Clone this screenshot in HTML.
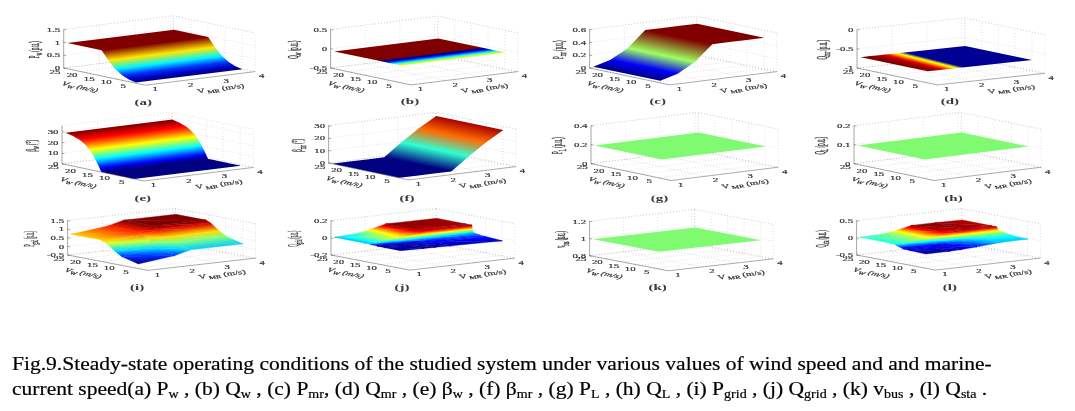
<!DOCTYPE html>
<html><head><meta charset="utf-8"><title>Fig.9</title>
<style>
html,body{margin:0;padding:0;background:#fff;}
body{width:1075px;height:411px;position:relative;overflow:hidden;font-family:"Liberation Serif",serif;}
.cap{position:absolute;left:12.4px;top:346px;width:1060px;font-size:19.2px;color:#000;white-space:nowrap;-webkit-text-stroke:0.2px #000;}
.cap div{position:absolute;left:0;height:24px;line-height:24px;transform-origin:0 0;transform:scaleX(1.1217);}
.cap .l1{top:6.1px;}
.cap .l2{top:30.8px;}
.cap sub{font-size:12.5px;vertical-align:baseline;position:relative;top:3px;}
</style></head><body>
<svg width="1075" height="320" viewBox="0 0 1075 320" font-family="Liberation Serif, serif" style="position:absolute;left:0;top:0;filter:blur(0.45px)">
<defs><linearGradient id="g1" gradientUnits="userSpaceOnUse" x1="67.38" y1="43.04" x2="73.26" y2="90.28"><stop offset="0.0000" stop-color="#800000"/><stop offset="0.2383" stop-color="#800000"/><stop offset="0.4697" stop-color="#ffe700"/><stop offset="0.6660" stop-color="#00f5ff"/><stop offset="0.8132" stop-color="#0033ff"/><stop offset="0.9213" stop-color="#0000bc"/><stop offset="1.0000" stop-color="#000080"/></linearGradient><linearGradient id="g2" gradientUnits="userSpaceOnUse" x1="334.21" y1="51.39" x2="336.96" y2="73.47"><stop offset="0.0000" stop-color="#800000"/><stop offset="0.6300" stop-color="#800000"/><stop offset="0.7000" stop-color="#000080"/><stop offset="0.7500" stop-color="#0000d1"/><stop offset="0.8000" stop-color="#0042ff"/><stop offset="0.8500" stop-color="#00bdff"/><stop offset="0.9000" stop-color="#38ffc7"/><stop offset="0.9500" stop-color="#9eff61"/><stop offset="1.0000" stop-color="#faff05"/></linearGradient><linearGradient id="g3" gradientUnits="userSpaceOnUse" x1="660.26" y1="80.78" x2="673.31" y2="18.64"><stop offset="0.0000" stop-color="#000080"/><stop offset="0.1647" stop-color="#0000fa"/><stop offset="0.4008" stop-color="#9eff61"/><stop offset="0.7320" stop-color="#800000"/><stop offset="0.8213" stop-color="#800000"/><stop offset="0.9107" stop-color="#800000"/><stop offset="1.0000" stop-color="#800000"/></linearGradient><linearGradient id="g4" gradientUnits="userSpaceOnUse" x1="927.66" y1="71.26" x2="936.54" y2="35.95"><stop offset="0.0000" stop-color="#800000"/><stop offset="0.0926" stop-color="#9e0000"/><stop offset="0.1543" stop-color="#e50000"/><stop offset="0.1955" stop-color="#ff4c00"/><stop offset="0.2263" stop-color="#ff9e00"/><stop offset="0.2572" stop-color="#ffe500"/><stop offset="0.2798" stop-color="#faff05"/><stop offset="0.3549" stop-color="#000094"/><stop offset="1.0000" stop-color="#000094"/></linearGradient><linearGradient id="g5" gradientUnits="userSpaceOnUse" x1="65.68" y1="132.78" x2="72.37" y2="186.60"><stop offset="0.0000" stop-color="#800000"/><stop offset="0.0089" stop-color="#860000"/><stop offset="0.0178" stop-color="#8c0000"/><stop offset="0.0267" stop-color="#930000"/><stop offset="0.0356" stop-color="#990000"/><stop offset="0.0445" stop-color="#a00000"/><stop offset="0.0534" stop-color="#a60000"/><stop offset="0.0623" stop-color="#ad0000"/><stop offset="0.0712" stop-color="#b30000"/><stop offset="0.0822" stop-color="#bd0000"/><stop offset="0.0932" stop-color="#c70000"/><stop offset="0.1043" stop-color="#d10000"/><stop offset="0.1153" stop-color="#dc0000"/><stop offset="0.1263" stop-color="#e60000"/><stop offset="0.1373" stop-color="#f00000"/><stop offset="0.1483" stop-color="#fa0000"/><stop offset="0.1593" stop-color="#ff0500"/><stop offset="0.1711" stop-color="#ff1100"/><stop offset="0.1862" stop-color="#ff2200"/><stop offset="0.2012" stop-color="#ff3300"/><stop offset="0.2162" stop-color="#ff4400"/><stop offset="0.2312" stop-color="#ff5500"/><stop offset="0.2463" stop-color="#ff6700"/><stop offset="0.2623" stop-color="#ff7a00"/><stop offset="0.2826" stop-color="#ff9400"/><stop offset="0.3029" stop-color="#ffae00"/><stop offset="0.3231" stop-color="#ffc900"/><stop offset="0.3434" stop-color="#ffe300"/><stop offset="0.3637" stop-color="#fffd00"/><stop offset="0.3883" stop-color="#dfff20"/><stop offset="0.4158" stop-color="#b7ff48"/><stop offset="0.4434" stop-color="#90ff6f"/><stop offset="0.4709" stop-color="#69ff96"/><stop offset="0.5030" stop-color="#3affc5"/><stop offset="0.5350" stop-color="#0bfff4"/><stop offset="0.5671" stop-color="#00dbff"/><stop offset="0.5991" stop-color="#00acff"/><stop offset="0.6316" stop-color="#007cff"/><stop offset="0.6647" stop-color="#004bff"/><stop offset="0.6978" stop-color="#001bff"/><stop offset="0.7360" stop-color="#0000e0"/><stop offset="0.7755" stop-color="#0000a4"/><stop offset="0.8013" stop-color="#000080"/><stop offset="0.8065" stop-color="#000080"/><stop offset="0.8118" stop-color="#000080"/><stop offset="0.8170" stop-color="#000080"/><stop offset="0.8222" stop-color="#000080"/><stop offset="0.8274" stop-color="#000080"/><stop offset="0.8327" stop-color="#000080"/><stop offset="0.8379" stop-color="#000080"/><stop offset="0.8431" stop-color="#000080"/><stop offset="0.8484" stop-color="#000080"/><stop offset="0.8536" stop-color="#000080"/><stop offset="0.8588" stop-color="#000080"/><stop offset="0.8641" stop-color="#000080"/><stop offset="0.8693" stop-color="#000080"/><stop offset="0.8745" stop-color="#000080"/><stop offset="0.8797" stop-color="#000080"/><stop offset="0.8850" stop-color="#000080"/><stop offset="0.8902" stop-color="#000080"/><stop offset="0.8954" stop-color="#000080"/><stop offset="0.9007" stop-color="#000080"/><stop offset="0.9059" stop-color="#000080"/><stop offset="0.9111" stop-color="#000080"/><stop offset="0.9163" stop-color="#000080"/><stop offset="0.9216" stop-color="#000080"/><stop offset="0.9268" stop-color="#000080"/><stop offset="0.9320" stop-color="#000080"/><stop offset="0.9373" stop-color="#000080"/><stop offset="0.9425" stop-color="#000080"/><stop offset="0.9477" stop-color="#000080"/><stop offset="0.9529" stop-color="#000080"/><stop offset="0.9582" stop-color="#000080"/><stop offset="0.9634" stop-color="#000080"/><stop offset="0.9686" stop-color="#000080"/><stop offset="0.9739" stop-color="#000080"/><stop offset="0.9791" stop-color="#000080"/><stop offset="0.9843" stop-color="#000080"/><stop offset="0.9895" stop-color="#000080"/><stop offset="0.9948" stop-color="#000080"/><stop offset="1.0000" stop-color="#000080"/></linearGradient><linearGradient id="g6" gradientUnits="userSpaceOnUse" x1="399.26" y1="177.84" x2="413.28" y2="111.11"><stop offset="0.0000" stop-color="#000080"/><stop offset="0.0832" stop-color="#000080"/><stop offset="0.1664" stop-color="#000080"/><stop offset="0.2495" stop-color="#000080"/><stop offset="0.5170" stop-color="#2effd1"/><stop offset="0.7701" stop-color="#ff6b00"/><stop offset="1.0000" stop-color="#a80000"/></linearGradient><linearGradient id="g7" gradientUnits="userSpaceOnUse" x1="107.83" y1="225.99" x2="109.46" y2="217.53"><stop offset="0.0000" stop-color="#ff2300"/><stop offset="1.0000" stop-color="#800000"/></linearGradient><linearGradient id="g8" gradientUnits="userSpaceOnUse" x1="107.83" y1="225.99" x2="109.46" y2="217.53"><stop offset="0.0000" stop-color="#ff2300"/><stop offset="1.0000" stop-color="#800000"/></linearGradient><linearGradient id="g9" gradientUnits="userSpaceOnUse" x1="71.22" y1="234.30" x2="74.06" y2="219.49"><stop offset="0.0000" stop-color="#ffcd00"/><stop offset="1.0000" stop-color="#ff2300"/></linearGradient><linearGradient id="g10" gradientUnits="userSpaceOnUse" x1="71.22" y1="234.30" x2="74.06" y2="219.49"><stop offset="0.0000" stop-color="#ffcd00"/><stop offset="1.0000" stop-color="#ff2300"/></linearGradient><linearGradient id="g11" gradientUnits="userSpaceOnUse" x1="211.05" y1="223.27" x2="210.62" y2="219.54"><stop offset="0.0000" stop-color="#dc0000"/><stop offset="1.0000" stop-color="#800000"/></linearGradient><linearGradient id="g12" gradientUnits="userSpaceOnUse" x1="211.05" y1="223.27" x2="210.62" y2="219.54"><stop offset="0.0000" stop-color="#dc0000"/><stop offset="1.0000" stop-color="#800000"/></linearGradient><linearGradient id="g13" gradientUnits="userSpaceOnUse" x1="138.02" y1="231.79" x2="138.00" y2="226.09"><stop offset="0.0000" stop-color="#ff2300"/><stop offset="0.4348" stop-color="#dc0000"/><stop offset="1.0000" stop-color="#800000"/></linearGradient><linearGradient id="g14" gradientUnits="userSpaceOnUse" x1="143.05" y1="234.99" x2="143.03" y2="229.30"><stop offset="0.0000" stop-color="#ff7f00"/><stop offset="0.5652" stop-color="#ff2300"/><stop offset="1.0000" stop-color="#dc0000"/></linearGradient><linearGradient id="g15" gradientUnits="userSpaceOnUse" x1="101.40" y1="240.10" x2="101.07" y2="233.72"><stop offset="0.0000" stop-color="#ffcd00"/><stop offset="0.4583" stop-color="#ff7f00"/><stop offset="1.0000" stop-color="#ff2300"/></linearGradient><linearGradient id="g16" gradientUnits="userSpaceOnUse" x1="106.43" y1="243.31" x2="106.10" y2="236.93"><stop offset="0.0000" stop-color="#d5ff2a"/><stop offset="0.5417" stop-color="#ffcd00"/><stop offset="1.0000" stop-color="#ff7f00"/></linearGradient><linearGradient id="g17" gradientUnits="userSpaceOnUse" x1="219.43" y1="231.07" x2="218.44" y2="222.42"><stop offset="0.0000" stop-color="#ffdc00"/><stop offset="1.0000" stop-color="#dc0000"/></linearGradient><linearGradient id="g18" gradientUnits="userSpaceOnUse" x1="219.43" y1="231.07" x2="218.44" y2="222.42"><stop offset="0.0000" stop-color="#ffdc00"/><stop offset="1.0000" stop-color="#dc0000"/></linearGradient><linearGradient id="g19" gradientUnits="userSpaceOnUse" x1="167.13" y1="237.05" x2="166.83" y2="228.95"><stop offset="0.0000" stop-color="#ffdc00"/><stop offset="0.3611" stop-color="#ff7f00"/><stop offset="1.0000" stop-color="#dc0000"/></linearGradient><linearGradient id="g20" gradientUnits="userSpaceOnUse" x1="151.43" y1="242.80" x2="151.14" y2="234.70"><stop offset="0.0000" stop-color="#80ff7f"/><stop offset="0.6389" stop-color="#ffdc00"/><stop offset="1.0000" stop-color="#ff7f00"/></linearGradient><linearGradient id="g21" gradientUnits="userSpaceOnUse" x1="151.43" y1="242.80" x2="150.82" y2="234.42"><stop offset="0.0000" stop-color="#80ff7f"/><stop offset="0.3333" stop-color="#d5ff2a"/><stop offset="1.0000" stop-color="#ff7f00"/></linearGradient><linearGradient id="g22" gradientUnits="userSpaceOnUse" x1="114.82" y1="251.11" x2="114.20" y2="242.74"><stop offset="0.0000" stop-color="#00d5ff"/><stop offset="0.6667" stop-color="#80ff7f"/><stop offset="1.0000" stop-color="#d5ff2a"/></linearGradient><linearGradient id="g23" gradientUnits="userSpaceOnUse" x1="226.14" y1="236.32" x2="225.46" y2="230.38"><stop offset="0.0000" stop-color="#80ff7f"/><stop offset="1.0000" stop-color="#ffdc00"/></linearGradient><linearGradient id="g24" gradientUnits="userSpaceOnUse" x1="226.14" y1="236.32" x2="225.46" y2="230.38"><stop offset="0.0000" stop-color="#80ff7f"/><stop offset="1.0000" stop-color="#ffdc00"/></linearGradient><linearGradient id="g25" gradientUnits="userSpaceOnUse" x1="151.43" y1="242.80" x2="151.31" y2="237.41"><stop offset="0.0000" stop-color="#80ff7f"/><stop offset="1.0000" stop-color="#ffdc00"/></linearGradient><linearGradient id="g26" gradientUnits="userSpaceOnUse" x1="158.14" y1="248.05" x2="158.02" y2="242.65"><stop offset="0.0000" stop-color="#00dcff"/><stop offset="1.0000" stop-color="#80ff7f"/></linearGradient><linearGradient id="g27" gradientUnits="userSpaceOnUse" x1="114.82" y1="251.11" x2="114.44" y2="245.21"><stop offset="0.0000" stop-color="#00d5ff"/><stop offset="0.0417" stop-color="#00dcff"/><stop offset="1.0000" stop-color="#80ff7f"/></linearGradient><linearGradient id="g28" gradientUnits="userSpaceOnUse" x1="121.53" y1="256.36" x2="121.14" y2="250.45"><stop offset="0.0000" stop-color="#0032ff"/><stop offset="0.9583" stop-color="#00d5ff"/><stop offset="1.0000" stop-color="#00dcff"/></linearGradient><linearGradient id="g29" gradientUnits="userSpaceOnUse" x1="242.91" y1="243.84" x2="241.85" y2="234.52"><stop offset="0.0000" stop-color="#00cdff"/><stop offset="1.0000" stop-color="#80ff7f"/></linearGradient><linearGradient id="g30" gradientUnits="userSpaceOnUse" x1="242.91" y1="243.84" x2="241.85" y2="234.52"><stop offset="0.0000" stop-color="#00cdff"/><stop offset="1.0000" stop-color="#80ff7f"/></linearGradient><linearGradient id="g31" gradientUnits="userSpaceOnUse" x1="190.60" y1="249.82" x2="190.86" y2="242.94"><stop offset="0.0000" stop-color="#00cdff"/><stop offset="0.0800" stop-color="#00dcff"/><stop offset="1.0000" stop-color="#80ff7f"/></linearGradient><linearGradient id="g32" gradientUnits="userSpaceOnUse" x1="174.91" y1="255.57" x2="175.17" y2="248.69"><stop offset="0.0000" stop-color="#002bff"/><stop offset="0.9200" stop-color="#00cdff"/><stop offset="1.0000" stop-color="#00dcff"/></linearGradient><linearGradient id="g33" gradientUnits="userSpaceOnUse" x1="174.91" y1="255.57" x2="174.75" y2="247.70"><stop offset="0.0000" stop-color="#002bff"/><stop offset="0.0400" stop-color="#0032ff"/><stop offset="1.0000" stop-color="#00dcff"/></linearGradient><linearGradient id="g34" gradientUnits="userSpaceOnUse" x1="138.30" y1="263.88" x2="138.14" y2="256.02"><stop offset="0.0000" stop-color="#000080"/><stop offset="0.9600" stop-color="#002bff"/><stop offset="1.0000" stop-color="#0032ff"/></linearGradient><linearGradient id="g35" gradientUnits="userSpaceOnUse" x1="436.61" y1="218.30" x2="433.75" y2="233.14"><stop offset="0.0000" stop-color="#9f0000"/><stop offset="1.0000" stop-color="#870000"/></linearGradient><linearGradient id="g36" gradientUnits="userSpaceOnUse" x1="415.18" y1="230.09" x2="414.83" y2="222.55"><stop offset="0.0000" stop-color="#b70000"/><stop offset="1.0000" stop-color="#870000"/></linearGradient><linearGradient id="g37" gradientUnits="userSpaceOnUse" x1="370.27" y1="229.41" x2="371.63" y2="221.48"><stop offset="0.0000" stop-color="#ffe400"/><stop offset="0.6562" stop-color="#ff0000"/><stop offset="1.0000" stop-color="#870000"/></linearGradient><linearGradient id="g38" gradientUnits="userSpaceOnUse" x1="370.27" y1="229.41" x2="372.06" y2="220.94"><stop offset="0.0000" stop-color="#ffe400"/><stop offset="0.7599" stop-color="#ff0000"/><stop offset="1.0000" stop-color="#b70000"/></linearGradient><linearGradient id="g39" gradientUnits="userSpaceOnUse" x1="358.36" y1="233.18" x2="359.81" y2="226.31"><stop offset="0.0000" stop-color="#3cffc3"/><stop offset="0.7695" stop-color="#ffff00"/><stop offset="1.0000" stop-color="#ffc500"/></linearGradient><linearGradient id="g40" gradientUnits="userSpaceOnUse" x1="358.36" y1="233.18" x2="366.57" y2="217.42"><stop offset="0.0000" stop-color="#3cffc3"/><stop offset="0.7695" stop-color="#ffff00"/><stop offset="1.0000" stop-color="#ffc500"/></linearGradient><linearGradient id="g41" gradientUnits="userSpaceOnUse" x1="334.55" y1="237.28" x2="382.96" y2="221.73"><stop offset="0.0000" stop-color="#00bdff"/><stop offset="0.2463" stop-color="#00ffff"/><stop offset="1.0000" stop-color="#cbff34"/></linearGradient><linearGradient id="g42" gradientUnits="userSpaceOnUse" x1="364.15" y1="242.99" x2="365.92" y2="233.29"><stop offset="0.0000" stop-color="#00b5ff"/><stop offset="0.2679" stop-color="#00ffff"/><stop offset="1.0000" stop-color="#cbff34"/></linearGradient><linearGradient id="g43" gradientUnits="userSpaceOnUse" x1="415.18" y1="230.09" x2="418.13" y2="214.75"><stop offset="0.0000" stop-color="#b70000"/><stop offset="1.0000" stop-color="#9f0000"/></linearGradient><linearGradient id="g44" gradientUnits="userSpaceOnUse" x1="420.77" y1="232.37" x2="420.51" y2="229.09"><stop offset="0.0000" stop-color="#ff2700"/><stop offset="0.2868" stop-color="#ff0000"/><stop offset="1.0000" stop-color="#9f0000"/></linearGradient><linearGradient id="g45" gradientUnits="userSpaceOnUse" x1="399.87" y1="234.76" x2="400.02" y2="229.63"><stop offset="0.0000" stop-color="#ffc500"/><stop offset="0.7316" stop-color="#ff0000"/><stop offset="1.0000" stop-color="#b70000"/></linearGradient><linearGradient id="g46" gradientUnits="userSpaceOnUse" x1="399.87" y1="234.76" x2="401.06" y2="228.58"><stop offset="0.0000" stop-color="#ffc500"/><stop offset="1.0000" stop-color="#ff2700"/></linearGradient><linearGradient id="g47" gradientUnits="userSpaceOnUse" x1="387.96" y1="237.32" x2="388.86" y2="232.64"><stop offset="0.0000" stop-color="#cbff34"/><stop offset="0.4732" stop-color="#ffff00"/><stop offset="1.0000" stop-color="#ffc500"/></linearGradient><linearGradient id="g48" gradientUnits="userSpaceOnUse" x1="387.96" y1="237.32" x2="390.45" y2="230.42"><stop offset="0.0000" stop-color="#cbff34"/><stop offset="0.4732" stop-color="#ffff00"/><stop offset="1.0000" stop-color="#ffc500"/></linearGradient><linearGradient id="g49" gradientUnits="userSpaceOnUse" x1="364.15" y1="242.99" x2="367.70" y2="230.73"><stop offset="0.0000" stop-color="#00b5ff"/><stop offset="0.2534" stop-color="#00ffff"/><stop offset="1.0000" stop-color="#daff25"/></linearGradient><linearGradient id="g50" gradientUnits="userSpaceOnUse" x1="369.74" y1="244.08" x2="371.14" y2="234.84"><stop offset="0.0000" stop-color="#00adff"/><stop offset="0.2730" stop-color="#00ffff"/><stop offset="1.0000" stop-color="#daff25"/></linearGradient><linearGradient id="g51" gradientUnits="userSpaceOnUse" x1="473.11" y1="232.29" x2="472.29" y2="225.02"><stop offset="0.0000" stop-color="#00dcff"/><stop offset="0.0540" stop-color="#00ffff"/><stop offset="0.4522" stop-color="#ffff00"/><stop offset="0.8503" stop-color="#ff0000"/><stop offset="1.0000" stop-color="#9f0000"/></linearGradient><linearGradient id="g52" gradientUnits="userSpaceOnUse" x1="422.08" y1="238.29" x2="421.40" y2="232.29"><stop offset="0.0000" stop-color="#00cdff"/><stop offset="0.0966" stop-color="#00ffff"/><stop offset="0.5852" stop-color="#ffff00"/><stop offset="1.0000" stop-color="#ff2700"/></linearGradient><linearGradient id="g53" gradientUnits="userSpaceOnUse" x1="422.08" y1="238.29" x2="421.44" y2="232.29"><stop offset="0.0000" stop-color="#00cdff"/><stop offset="0.0966" stop-color="#00ffff"/><stop offset="0.5852" stop-color="#ffff00"/><stop offset="1.0000" stop-color="#ff2700"/></linearGradient><linearGradient id="g54" gradientUnits="userSpaceOnUse" x1="422.08" y1="238.29" x2="421.58" y2="233.97"><stop offset="0.0000" stop-color="#00cdff"/><stop offset="0.1386" stop-color="#00ffff"/><stop offset="0.8397" stop-color="#ffff00"/><stop offset="1.0000" stop-color="#ffc500"/></linearGradient><linearGradient id="g55" gradientUnits="userSpaceOnUse" x1="406.77" y1="239.87" x2="406.34" y2="235.74"><stop offset="0.0000" stop-color="#00dcff"/><stop offset="0.0994" stop-color="#00ffff"/><stop offset="0.8324" stop-color="#ffff00"/><stop offset="1.0000" stop-color="#ffc500"/></linearGradient><linearGradient id="g56" gradientUnits="userSpaceOnUse" x1="394.87" y1="241.64" x2="394.51" y2="238.13"><stop offset="0.0000" stop-color="#00adff"/><stop offset="0.2730" stop-color="#00ffff"/><stop offset="1.0000" stop-color="#daff25"/></linearGradient><linearGradient id="g57" gradientUnits="userSpaceOnUse" x1="369.74" y1="244.08" x2="369.40" y2="240.58"><stop offset="0.0000" stop-color="#00adff"/><stop offset="0.2730" stop-color="#00ffff"/><stop offset="1.0000" stop-color="#daff25"/></linearGradient><linearGradient id="g58" gradientUnits="userSpaceOnUse" x1="371.05" y1="244.56" x2="371.00" y2="243.96"><stop offset="0.0000" stop-color="#004eff"/><stop offset="1.0000" stop-color="#00adff"/></linearGradient><linearGradient id="g59" gradientUnits="userSpaceOnUse" x1="479.36" y1="234.88" x2="479.00" y2="231.64"><stop offset="0.0000" stop-color="#004eff"/><stop offset="1.0000" stop-color="#00dcff"/></linearGradient><linearGradient id="g60" gradientUnits="userSpaceOnUse" x1="428.33" y1="240.70" x2="428.05" y2="237.73"><stop offset="0.0000" stop-color="#000fff"/><stop offset="1.0000" stop-color="#00cdff"/></linearGradient><linearGradient id="g61" gradientUnits="userSpaceOnUse" x1="428.33" y1="240.70" x2="427.93" y2="237.33"><stop offset="0.0000" stop-color="#000fff"/><stop offset="1.0000" stop-color="#00dcff"/></linearGradient><linearGradient id="g62" gradientUnits="userSpaceOnUse" x1="413.02" y1="242.65" x2="412.80" y2="239.46"><stop offset="0.0000" stop-color="#0000bf"/><stop offset="0.2257" stop-color="#0000ff"/><stop offset="1.0000" stop-color="#00dcff"/></linearGradient><linearGradient id="g63" gradientUnits="userSpaceOnUse" x1="413.02" y1="242.65" x2="412.68" y2="239.28"><stop offset="0.0000" stop-color="#0000bf"/><stop offset="0.2257" stop-color="#0000ff"/><stop offset="1.0000" stop-color="#00dcff"/></linearGradient><linearGradient id="g64" gradientUnits="userSpaceOnUse" x1="401.12" y1="243.83" x2="400.86" y2="241.09"><stop offset="0.0000" stop-color="#0000b7"/><stop offset="0.2944" stop-color="#0000ff"/><stop offset="1.0000" stop-color="#00adff"/></linearGradient><linearGradient id="g65" gradientUnits="userSpaceOnUse" x1="401.12" y1="243.83" x2="400.91" y2="241.16"><stop offset="0.0000" stop-color="#0000b7"/><stop offset="0.2944" stop-color="#0000ff"/><stop offset="1.0000" stop-color="#00adff"/></linearGradient><linearGradient id="g66" gradientUnits="userSpaceOnUse" x1="377.30" y1="246.14" x2="377.11" y2="244.00"><stop offset="0.0000" stop-color="#0000af"/><stop offset="0.5063" stop-color="#0000ff"/><stop offset="1.0000" stop-color="#004eff"/></linearGradient><linearGradient id="g67" gradientUnits="userSpaceOnUse" x1="428.33" y1="240.70" x2="428.17" y2="237.91"><stop offset="0.0000" stop-color="#000fff"/><stop offset="1.0000" stop-color="#004eff"/></linearGradient><linearGradient id="g68" gradientUnits="userSpaceOnUse" x1="434.91" y1="242.16" x2="434.76" y2="239.47"><stop offset="0.0000" stop-color="#0000ed"/><stop offset="0.3750" stop-color="#0000ff"/><stop offset="1.0000" stop-color="#001fff"/></linearGradient><linearGradient id="g69" gradientUnits="userSpaceOnUse" x1="413.02" y1="242.65" x2="413.16" y2="239.95"><stop offset="0.0000" stop-color="#0000bf"/><stop offset="0.8125" stop-color="#0000ff"/><stop offset="1.0000" stop-color="#000fff"/></linearGradient><linearGradient id="g70" gradientUnits="userSpaceOnUse" x1="419.60" y1="243.96" x2="419.98" y2="240.53"><stop offset="0.0000" stop-color="#0000b5"/><stop offset="1.0000" stop-color="#0000ed"/></linearGradient><linearGradient id="g71" gradientUnits="userSpaceOnUse" x1="419.60" y1="243.96" x2="419.60" y2="242.61"><stop offset="0.0000" stop-color="#0000b5"/><stop offset="1.0000" stop-color="#0000bf"/></linearGradient><linearGradient id="g72" gradientUnits="userSpaceOnUse" x1="407.70" y1="245.14" x2="407.69" y2="243.80"><stop offset="0.0000" stop-color="#0000ad"/><stop offset="1.0000" stop-color="#0000b7"/></linearGradient><linearGradient id="g73" gradientUnits="userSpaceOnUse" x1="407.70" y1="245.14" x2="407.63" y2="243.56"><stop offset="0.0000" stop-color="#0000ad"/><stop offset="1.0000" stop-color="#0000b7"/></linearGradient><linearGradient id="g74" gradientUnits="userSpaceOnUse" x1="383.88" y1="247.44" x2="383.82" y2="245.88"><stop offset="0.0000" stop-color="#0000a3"/><stop offset="1.0000" stop-color="#0000af"/></linearGradient><linearGradient id="g75" gradientUnits="userSpaceOnUse" x1="502.39" y1="240.81" x2="502.05" y2="235.58"><stop offset="0.0000" stop-color="#0000af"/><stop offset="0.7232" stop-color="#0000ff"/><stop offset="1.0000" stop-color="#001fff"/></linearGradient><linearGradient id="g76" gradientUnits="userSpaceOnUse" x1="451.36" y1="245.78" x2="450.98" y2="240.91"><stop offset="0.0000" stop-color="#00009f"/><stop offset="1.0000" stop-color="#0000ed"/></linearGradient><linearGradient id="g77" gradientUnits="userSpaceOnUse" x1="451.36" y1="245.78" x2="451.45" y2="242.64"><stop offset="0.0000" stop-color="#00009f"/><stop offset="1.0000" stop-color="#0000ed"/></linearGradient><linearGradient id="g78" gradientUnits="userSpaceOnUse" x1="451.36" y1="245.78" x2="450.90" y2="241.00"><stop offset="0.0000" stop-color="#00009f"/><stop offset="1.0000" stop-color="#0000b5"/></linearGradient><linearGradient id="g79" gradientUnits="userSpaceOnUse" x1="436.05" y1="247.23" x2="436.05" y2="243.95"><stop offset="0.0000" stop-color="#00009f"/><stop offset="1.0000" stop-color="#0000b5"/></linearGradient><linearGradient id="g80" gradientUnits="userSpaceOnUse" x1="424.14" y1="248.39" x2="424.14" y2="245.14"><stop offset="0.0000" stop-color="#000097"/><stop offset="1.0000" stop-color="#0000ad"/></linearGradient><linearGradient id="g81" gradientUnits="userSpaceOnUse" x1="424.14" y1="248.39" x2="424.05" y2="244.73"><stop offset="0.0000" stop-color="#000097"/><stop offset="1.0000" stop-color="#0000ad"/></linearGradient><linearGradient id="g82" gradientUnits="userSpaceOnUse" x1="400.33" y1="250.67" x2="400.28" y2="247.22"><stop offset="0.0000" stop-color="#000087"/><stop offset="1.0000" stop-color="#0000a3"/></linearGradient><linearGradient id="g83" gradientUnits="userSpaceOnUse" x1="991.81" y1="225.77" x2="985.94" y2="241.59"><stop offset="0.0000" stop-color="#bf0000"/><stop offset="1.0000" stop-color="#900000"/></linearGradient><linearGradient id="g84" gradientUnits="userSpaceOnUse" x1="991.81" y1="225.77" x2="985.94" y2="241.59"><stop offset="0.0000" stop-color="#bf0000"/><stop offset="1.0000" stop-color="#900000"/></linearGradient><linearGradient id="g85" gradientUnits="userSpaceOnUse" x1="964.59" y1="228.53" x2="948.42" y2="202.35"><stop offset="0.0000" stop-color="#9e0000"/><stop offset="1.0000" stop-color="#8a0000"/></linearGradient><linearGradient id="g86" gradientUnits="userSpaceOnUse" x1="940.78" y1="231.98" x2="940.98" y2="226.44"><stop offset="0.0000" stop-color="#e40000"/><stop offset="1.0000" stop-color="#8a0000"/></linearGradient><linearGradient id="g87" gradientUnits="userSpaceOnUse" x1="895.87" y1="230.79" x2="897.07" y2="223.14"><stop offset="0.0000" stop-color="#fff000"/><stop offset="0.6717" stop-color="#ff0000"/><stop offset="1.0000" stop-color="#8a0000"/></linearGradient><linearGradient id="g88" gradientUnits="userSpaceOnUse" x1="925.47" y1="236.58" x2="926.81" y2="229.37"><stop offset="0.0000" stop-color="#fffa00"/><stop offset="0.9021" stop-color="#ff0000"/><stop offset="1.0000" stop-color="#e40000"/></linearGradient><linearGradient id="g89" gradientUnits="userSpaceOnUse" x1="883.96" y1="233.83" x2="884.90" y2="228.76"><stop offset="0.0000" stop-color="#6aff95"/><stop offset="0.9107" stop-color="#ffff00"/><stop offset="1.0000" stop-color="#fff000"/></linearGradient><linearGradient id="g90" gradientUnits="userSpaceOnUse" x1="883.96" y1="233.83" x2="885.46" y2="227.35"><stop offset="0.0000" stop-color="#6aff95"/><stop offset="0.9701" stop-color="#ffff00"/><stop offset="1.0000" stop-color="#fffa00"/></linearGradient><linearGradient id="g91" gradientUnits="userSpaceOnUse" x1="860.15" y1="237.28" x2="866.33" y2="221.11"><stop offset="0.0000" stop-color="#24ffdb"/><stop offset="1.0000" stop-color="#8bff74"/></linearGradient><linearGradient id="g92" gradientUnits="userSpaceOnUse" x1="889.75" y1="243.14" x2="890.98" y2="235.53"><stop offset="0.0000" stop-color="#13ffec"/><stop offset="1.0000" stop-color="#8bff74"/></linearGradient><linearGradient id="g93" gradientUnits="userSpaceOnUse" x1="996.74" y1="226.92" x2="995.27" y2="220.96"><stop offset="0.0000" stop-color="#d30000"/><stop offset="1.0000" stop-color="#9e0000"/></linearGradient><linearGradient id="g94" gradientUnits="userSpaceOnUse" x1="996.74" y1="226.92" x2="995.27" y2="220.96"><stop offset="0.0000" stop-color="#d30000"/><stop offset="1.0000" stop-color="#9e0000"/></linearGradient><linearGradient id="g95" gradientUnits="userSpaceOnUse" x1="940.78" y1="231.98" x2="940.83" y2="228.19"><stop offset="0.0000" stop-color="#e40000"/><stop offset="1.0000" stop-color="#9e0000"/></linearGradient><linearGradient id="g96" gradientUnits="userSpaceOnUse" x1="945.71" y1="234.13" x2="945.56" y2="230.75"><stop offset="0.0000" stop-color="#ff5a00"/><stop offset="0.5375" stop-color="#ff0000"/><stop offset="1.0000" stop-color="#b20000"/></linearGradient><linearGradient id="g97" gradientUnits="userSpaceOnUse" x1="925.47" y1="236.58" x2="925.56" y2="231.70"><stop offset="0.0000" stop-color="#fffa00"/><stop offset="0.9021" stop-color="#ff0000"/><stop offset="1.0000" stop-color="#e40000"/></linearGradient><linearGradient id="g98" gradientUnits="userSpaceOnUse" x1="930.40" y1="237.60" x2="931.31" y2="231.85"><stop offset="0.0000" stop-color="#fdff02"/><stop offset="0.0125" stop-color="#ffff00"/><stop offset="1.0000" stop-color="#ff5a00"/></linearGradient><linearGradient id="g99" gradientUnits="userSpaceOnUse" x1="913.56" y1="239.18" x2="914.24" y2="234.83"><stop offset="0.0000" stop-color="#8bff74"/><stop offset="0.9618" stop-color="#ffff00"/><stop offset="1.0000" stop-color="#fffa00"/></linearGradient><linearGradient id="g100" gradientUnits="userSpaceOnUse" x1="913.56" y1="239.18" x2="928.16" y2="232.62"><stop offset="0.0000" stop-color="#8bff74"/><stop offset="1.0000" stop-color="#fdff02"/></linearGradient><linearGradient id="g101" gradientUnits="userSpaceOnUse" x1="889.75" y1="243.14" x2="908.91" y2="255.14"><stop offset="0.0000" stop-color="#13ffec"/><stop offset="1.0000" stop-color="#a9ff56"/></linearGradient><linearGradient id="g102" gradientUnits="userSpaceOnUse" x1="894.68" y1="244.33" x2="895.12" y2="238.15"><stop offset="0.0000" stop-color="#00faff"/><stop offset="0.0264" stop-color="#00ffff"/><stop offset="1.0000" stop-color="#a9ff56"/></linearGradient><linearGradient id="g103" gradientUnits="userSpaceOnUse" x1="998.38" y1="229.99" x2="997.96" y2="226.37"><stop offset="0.0000" stop-color="#ffe000"/><stop offset="0.7431" stop-color="#ff0000"/><stop offset="1.0000" stop-color="#b20000"/></linearGradient><linearGradient id="g104" gradientUnits="userSpaceOnUse" x1="998.38" y1="229.99" x2="997.98" y2="226.44"><stop offset="0.0000" stop-color="#ffe000"/><stop offset="0.7431" stop-color="#ff0000"/><stop offset="1.0000" stop-color="#b20000"/></linearGradient><linearGradient id="g105" gradientUnits="userSpaceOnUse" x1="971.17" y1="233.10" x2="970.80" y2="229.56"><stop offset="0.0000" stop-color="#ffe000"/><stop offset="0.7431" stop-color="#ff0000"/><stop offset="1.0000" stop-color="#b20000"/></linearGradient><linearGradient id="g106" gradientUnits="userSpaceOnUse" x1="947.35" y1="236.51" x2="947.08" y2="233.98"><stop offset="0.0000" stop-color="#dbff24"/><stop offset="0.1771" stop-color="#ffff00"/><stop offset="1.0000" stop-color="#ff5a00"/></linearGradient><linearGradient id="g107" gradientUnits="userSpaceOnUse" x1="947.35" y1="236.51" x2="947.13" y2="234.00"><stop offset="0.0000" stop-color="#dbff24"/><stop offset="0.1771" stop-color="#ffff00"/><stop offset="1.0000" stop-color="#ff5a00"/></linearGradient><linearGradient id="g108" gradientUnits="userSpaceOnUse" x1="932.05" y1="239.64" x2="931.85" y2="237.47"><stop offset="0.0000" stop-color="#56ffa9"/><stop offset="1.0000" stop-color="#fdff02"/></linearGradient><linearGradient id="g109" gradientUnits="userSpaceOnUse" x1="932.05" y1="239.64" x2="931.84" y2="237.46"><stop offset="0.0000" stop-color="#56ffa9"/><stop offset="1.0000" stop-color="#fdff02"/></linearGradient><linearGradient id="g110" gradientUnits="userSpaceOnUse" x1="920.14" y1="241.69" x2="919.95" y2="239.68"><stop offset="0.0000" stop-color="#13ffec"/><stop offset="1.0000" stop-color="#a9ff56"/></linearGradient><linearGradient id="g111" gradientUnits="userSpaceOnUse" x1="894.68" y1="244.33" x2="894.47" y2="242.02"><stop offset="0.0000" stop-color="#00faff"/><stop offset="0.0264" stop-color="#00ffff"/><stop offset="1.0000" stop-color="#a9ff56"/></linearGradient><linearGradient id="g112" gradientUnits="userSpaceOnUse" x1="896.32" y1="245.44" x2="896.18" y2="243.82"><stop offset="0.0000" stop-color="#00adff"/><stop offset="0.8125" stop-color="#00ffff"/><stop offset="1.0000" stop-color="#13ffec"/></linearGradient><linearGradient id="g113" gradientUnits="userSpaceOnUse" x1="1004.96" y1="232.98" x2="1004.54" y2="229.29"><stop offset="0.0000" stop-color="#77ff88"/><stop offset="0.8125" stop-color="#ffff00"/><stop offset="1.0000" stop-color="#ffe000"/></linearGradient><linearGradient id="g114" gradientUnits="userSpaceOnUse" x1="977.75" y1="236.60" x2="977.34" y2="232.50"><stop offset="0.0000" stop-color="#45ffba"/><stop offset="0.8558" stop-color="#ffff00"/><stop offset="1.0000" stop-color="#ffe000"/></linearGradient><linearGradient id="g115" gradientUnits="userSpaceOnUse" x1="977.75" y1="236.60" x2="977.38" y2="232.54"><stop offset="0.0000" stop-color="#45ffba"/><stop offset="0.8558" stop-color="#ffff00"/><stop offset="1.0000" stop-color="#ffe000"/></linearGradient><linearGradient id="g116" gradientUnits="userSpaceOnUse" x1="953.93" y1="241.22" x2="953.55" y2="236.05"><stop offset="0.0000" stop-color="#008cff"/><stop offset="0.3438" stop-color="#00ffff"/><stop offset="1.0000" stop-color="#dbff24"/></linearGradient><linearGradient id="g117" gradientUnits="userSpaceOnUse" x1="953.93" y1="241.22" x2="953.58" y2="236.08"><stop offset="0.0000" stop-color="#008cff"/><stop offset="0.3438" stop-color="#00ffff"/><stop offset="1.0000" stop-color="#dbff24"/></linearGradient><linearGradient id="g118" gradientUnits="userSpaceOnUse" x1="938.62" y1="244.34" x2="938.27" y2="239.21"><stop offset="0.0000" stop-color="#0006ff"/><stop offset="0.7437" stop-color="#00ffff"/><stop offset="1.0000" stop-color="#56ffa9"/></linearGradient><linearGradient id="g119" gradientUnits="userSpaceOnUse" x1="938.62" y1="244.34" x2="938.19" y2="239.12"><stop offset="0.0000" stop-color="#0006ff"/><stop offset="0.7437" stop-color="#00ffff"/><stop offset="1.0000" stop-color="#56ffa9"/></linearGradient><linearGradient id="g120" gradientUnits="userSpaceOnUse" x1="926.72" y1="245.87" x2="926.21" y2="241.05"><stop offset="0.0000" stop-color="#0000f5"/><stop offset="0.0368" stop-color="#0000ff"/><stop offset="0.9338" stop-color="#00ffff"/><stop offset="1.0000" stop-color="#13ffec"/></linearGradient><linearGradient id="g121" gradientUnits="userSpaceOnUse" x1="926.72" y1="245.87" x2="926.31" y2="241.15"><stop offset="0.0000" stop-color="#0000f5"/><stop offset="0.0368" stop-color="#0000ff"/><stop offset="0.9338" stop-color="#00ffff"/><stop offset="1.0000" stop-color="#13ffec"/></linearGradient><linearGradient id="g122" gradientUnits="userSpaceOnUse" x1="902.90" y1="248.77" x2="902.47" y2="244.78"><stop offset="0.0000" stop-color="#0000e4"/><stop offset="0.1354" stop-color="#0000ff"/><stop offset="1.0000" stop-color="#00adff"/></linearGradient><linearGradient id="g123" gradientUnits="userSpaceOnUse" x1="1011.54" y1="235.27" x2="1011.31" y2="232.46"><stop offset="0.0000" stop-color="#13ffec"/><stop offset="1.0000" stop-color="#77ff88"/></linearGradient><linearGradient id="g124" gradientUnits="userSpaceOnUse" x1="984.33" y1="238.73" x2="984.09" y2="236.05"><stop offset="0.0000" stop-color="#00f0ff"/><stop offset="0.1750" stop-color="#00ffff"/><stop offset="1.0000" stop-color="#45ffba"/></linearGradient><linearGradient id="g125" gradientUnits="userSpaceOnUse" x1="953.93" y1="241.22" x2="953.94" y2="236.56"><stop offset="0.0000" stop-color="#008cff"/><stop offset="0.6250" stop-color="#00ffff"/><stop offset="1.0000" stop-color="#45ffba"/></linearGradient><linearGradient id="g126" gradientUnits="userSpaceOnUse" x1="960.51" y1="243.17" x2="960.56" y2="238.47"><stop offset="0.0000" stop-color="#0049ff"/><stop offset="1.0000" stop-color="#00f0ff"/></linearGradient><linearGradient id="g127" gradientUnits="userSpaceOnUse" x1="938.62" y1="244.34" x2="938.72" y2="240.80"><stop offset="0.0000" stop-color="#0006ff"/><stop offset="1.0000" stop-color="#008cff"/></linearGradient><linearGradient id="g128" gradientUnits="userSpaceOnUse" x1="945.20" y1="245.95" x2="945.42" y2="242.29"><stop offset="0.0000" stop-color="#0000e4"/><stop offset="0.2708" stop-color="#0000ff"/><stop offset="1.0000" stop-color="#0049ff"/></linearGradient><linearGradient id="g129" gradientUnits="userSpaceOnUse" x1="945.20" y1="245.95" x2="945.11" y2="244.03"><stop offset="0.0000" stop-color="#0000e4"/><stop offset="0.8125" stop-color="#0000ff"/><stop offset="1.0000" stop-color="#0006ff"/></linearGradient><linearGradient id="g130" gradientUnits="userSpaceOnUse" x1="933.30" y1="247.48" x2="933.20" y2="245.56"><stop offset="0.0000" stop-color="#0000d3"/><stop offset="1.0000" stop-color="#0000f5"/></linearGradient><linearGradient id="g131" gradientUnits="userSpaceOnUse" x1="933.30" y1="247.48" x2="933.13" y2="245.38"><stop offset="0.0000" stop-color="#0000d3"/><stop offset="1.0000" stop-color="#0000f5"/></linearGradient><linearGradient id="g132" gradientUnits="userSpaceOnUse" x1="909.48" y1="250.38" x2="909.32" y2="248.27"><stop offset="0.0000" stop-color="#0000c2"/><stop offset="1.0000" stop-color="#0000e4"/></linearGradient><linearGradient id="g133" gradientUnits="userSpaceOnUse" x1="1027.99" y1="239.12" x2="1027.79" y2="234.57"><stop offset="0.0000" stop-color="#00cfff"/><stop offset="0.7188" stop-color="#00ffff"/><stop offset="1.0000" stop-color="#13ffec"/></linearGradient><linearGradient id="g134" gradientUnits="userSpaceOnUse" x1="1000.77" y1="242.41" x2="1000.48" y2="237.71"><stop offset="0.0000" stop-color="#00beff"/><stop offset="1.0000" stop-color="#00f0ff"/></linearGradient><linearGradient id="g135" gradientUnits="userSpaceOnUse" x1="960.51" y1="243.17" x2="961.18" y2="236.43"><stop offset="0.0000" stop-color="#0049ff"/><stop offset="1.0000" stop-color="#00f0ff"/></linearGradient><linearGradient id="g136" gradientUnits="userSpaceOnUse" x1="976.96" y1="246.85" x2="977.63" y2="240.10"><stop offset="0.0000" stop-color="#0017ff"/><stop offset="1.0000" stop-color="#00beff"/></linearGradient><linearGradient id="g137" gradientUnits="userSpaceOnUse" x1="945.20" y1="245.95" x2="945.60" y2="241.75"><stop offset="0.0000" stop-color="#0000e4"/><stop offset="0.2708" stop-color="#0000ff"/><stop offset="1.0000" stop-color="#0049ff"/></linearGradient><linearGradient id="g138" gradientUnits="userSpaceOnUse" x1="961.65" y1="249.63" x2="962.05" y2="245.43"><stop offset="0.0000" stop-color="#0000b2"/><stop offset="0.7708" stop-color="#0000ff"/><stop offset="1.0000" stop-color="#0017ff"/></linearGradient><linearGradient id="g139" gradientUnits="userSpaceOnUse" x1="961.65" y1="249.63" x2="961.58" y2="245.66"><stop offset="0.0000" stop-color="#0000b2"/><stop offset="1.0000" stop-color="#0000e4"/></linearGradient><linearGradient id="g140" gradientUnits="userSpaceOnUse" x1="949.74" y1="251.16" x2="949.67" y2="247.20"><stop offset="0.0000" stop-color="#0000a1"/><stop offset="1.0000" stop-color="#0000d3"/></linearGradient><linearGradient id="g141" gradientUnits="userSpaceOnUse" x1="949.74" y1="251.16" x2="949.48" y2="246.56"><stop offset="0.0000" stop-color="#0000a1"/><stop offset="1.0000" stop-color="#0000d3"/></linearGradient><linearGradient id="g142" gradientUnits="userSpaceOnUse" x1="925.93" y1="254.06" x2="925.66" y2="249.46"><stop offset="0.0000" stop-color="#000090"/><stop offset="1.0000" stop-color="#0000c2"/></linearGradient></defs>
<g>
<path d="M63.7,68.0 L173.4,54.4 M173.4,54.4 L255.3,71.6 M63.7,55.1 L173.4,41.5 M173.4,41.5 L255.3,58.7 M63.7,42.3 L173.4,28.6 M173.4,28.6 L255.3,45.8 M63.7,29.4 L173.4,15.8 M173.4,15.8 L255.3,33.0 M63.7,29.4 L173.4,15.8 M173.4,15.8 L255.3,33.0 M173.4,54.4 L173.4,15.8 M255.3,71.6 L255.3,33.0 M63.7,68.0 L63.7,29.4 M63.7,68.0 L145.6,85.2 M99.2,63.6 L99.2,25.0 M99.2,63.6 L181.1,80.8 M134.8,59.2 L134.8,20.6 M134.8,59.2 L216.7,76.4 M170.3,54.7 L170.3,16.1 M170.3,54.7 L252.2,72.0 M132.3,82.4 L242.0,68.8 M242.0,68.8 L242.0,30.2 M115.2,78.8 L224.9,65.2 M224.9,65.2 L224.9,26.6 M98.2,75.2 L207.8,61.6 M207.8,61.6 L207.8,23.0 M81.1,71.6 L190.7,58.0 M190.7,58.0 L190.7,19.4 M64.0,68.1 L173.6,54.4 M173.6,54.4 L173.6,15.8 M63.7,68.0 L173.4,54.4 M173.4,54.4 L255.3,71.6" stroke="#888" stroke-width="0.6" stroke-dasharray="0.8 2.2" fill="none" opacity="0.5"/>
<g stroke-width="0.4" stroke-linejoin="round">
<path d="M67.4,43.0 L101.6,50.2 L108.4,60.5 L115.2,69.0 L122.1,75.3 L128.9,79.6 L135.8,82.5 L242.4,69.3 L235.5,66.3 L228.7,62.0 L221.9,55.8 L215.0,47.2 L208.2,37.0 L174.0,29.8Z" fill="url(#g1)"/>
</g>
<path d="M63.7,68.0 L63.7,29.4 M63.7,68.0 L145.6,85.2 M145.6,85.2 L255.3,71.6 M63.7,68.0 L66.2,68.5 M63.7,55.1 L66.2,55.6 M63.7,42.3 L66.2,42.8 M63.7,29.4 L66.2,29.9" stroke="#555" stroke-width="0.7" fill="none" opacity="0.7"/>
<text transform="translate(60.2,70.2) scale(1.80,1.00)" font-size="6" text-anchor="end" stroke="#222" stroke-width="0.2" stroke-opacity="0.85" fill="#222" fill-opacity="0.85">0</text>
<text transform="translate(60.2,57.3) scale(1.80,1.00)" font-size="6" text-anchor="end" stroke="#222" stroke-width="0.2" stroke-opacity="0.85" fill="#222" fill-opacity="0.85">0.5</text>
<text transform="translate(60.2,44.5) scale(1.80,1.00)" font-size="6" text-anchor="end" stroke="#222" stroke-width="0.2" stroke-opacity="0.85" fill="#222" fill-opacity="0.85">1</text>
<text transform="translate(60.2,31.6) scale(1.80,1.00)" font-size="6" text-anchor="end" stroke="#222" stroke-width="0.2" stroke-opacity="0.85" fill="#222" fill-opacity="0.85">1.5</text>
<text transform="translate(123.3,87.9) scale(1.80,1.00)" font-size="6" text-anchor="middle" stroke="#222" stroke-width="0.2" stroke-opacity="0.85" fill="#222" fill-opacity="0.85">5</text>
<text transform="translate(106.2,84.3) scale(1.80,1.00)" font-size="6" text-anchor="middle" stroke="#222" stroke-width="0.2" stroke-opacity="0.85" fill="#222" fill-opacity="0.85">10</text>
<text transform="translate(89.2,80.7) scale(1.80,1.00)" font-size="6" text-anchor="middle" stroke="#222" stroke-width="0.2" stroke-opacity="0.85" fill="#222" fill-opacity="0.85">15</text>
<text transform="translate(72.1,77.1) scale(1.80,1.00)" font-size="6" text-anchor="middle" stroke="#222" stroke-width="0.2" stroke-opacity="0.85" fill="#222" fill-opacity="0.85">20</text>
<text transform="translate(55.0,73.6) scale(1.80,1.00)" font-size="6" text-anchor="middle" stroke="#222" stroke-width="0.2" stroke-opacity="0.85" fill="#222" fill-opacity="0.85">25</text>
<text transform="translate(155.1,91.4) scale(1.80,1.00)" font-size="6" text-anchor="middle" stroke="#222" stroke-width="0.2" stroke-opacity="0.85" fill="#222" fill-opacity="0.85">1</text>
<text transform="translate(190.6,87.0) scale(1.80,1.00)" font-size="6" text-anchor="middle" stroke="#222" stroke-width="0.2" stroke-opacity="0.85" fill="#222" fill-opacity="0.85">2</text>
<text transform="translate(226.2,82.6) scale(1.80,1.00)" font-size="6" text-anchor="middle" stroke="#222" stroke-width="0.2" stroke-opacity="0.85" fill="#222" fill-opacity="0.85">3</text>
<text transform="translate(261.7,78.2) scale(1.80,1.00)" font-size="6" text-anchor="middle" stroke="#222" stroke-width="0.2" stroke-opacity="0.85" fill="#222" fill-opacity="0.85">4</text>
<text transform="translate(78.8,88.8) scale(1.80,1.00) rotate(20.7)" font-size="6" text-anchor="middle" font-style="italic" stroke="#222" stroke-width="0.2" stroke-opacity="0.85" fill="#222" fill-opacity="0.85">V<tspan font-size="4.5" dy="1.5">W</tspan><tspan dy="-1.5"> (m/s)</tspan></text>
<text transform="translate(221.4,90.4) scale(1.80,1.00) rotate(-12.6)" font-size="6" text-anchor="middle" stroke="#222" stroke-width="0.2" stroke-opacity="0.85" fill="#222" fill-opacity="0.85">V<tspan font-size="4.5" dy="1.5"> MR</tspan><tspan dy="-1.5"> (m/s)</tspan></text>
<text transform="translate(38.9,49.7) scale(2.30,0.82) rotate(-90.0)" font-size="6" text-anchor="middle" stroke="#222" stroke-width="0.2" stroke-opacity="0.85" fill="#222" fill-opacity="0.85">P<tspan font-size="4.5" dy="1.5">w</tspan><tspan dy="-1.5"> (p.u.)</tspan></text>
<text transform="translate(143.3,104.6) scale(2.00,1.00)" font-size="7.5" text-anchor="middle" font-weight="bold" fill="#222" fill-opacity="0.9">(a)</text>
</g>
<g>
<path d="M330.6,68.0 L437.6,54.7 M437.6,54.7 L517.9,71.6 M330.6,48.7 L437.6,35.4 M437.6,35.4 L517.9,52.3 M330.6,29.4 L437.6,16.1 M437.6,16.1 L517.9,33.0 M330.6,29.4 L437.6,16.1 M437.6,16.1 L517.9,33.0 M437.6,54.7 L437.6,16.1 M517.9,71.6 L517.9,33.0 M330.6,68.0 L330.6,29.4 M330.6,68.0 L410.9,84.9 M365.3,63.7 L365.3,25.1 M365.3,63.7 L445.6,80.6 M399.9,59.4 L399.9,20.8 M399.9,59.4 L480.2,76.2 M434.6,55.1 L434.6,16.5 M434.6,55.1 L514.9,71.9 M397.9,82.1 L504.9,68.8 M504.9,68.8 L504.9,30.2 M381.1,78.6 L488.1,65.3 M488.1,65.3 L488.1,26.7 M364.4,75.1 L471.4,61.8 M471.4,61.8 L471.4,23.2 M347.6,71.6 L454.6,58.3 M454.6,58.3 L454.6,19.7 M330.9,68.1 L437.9,54.8 M437.9,54.8 L437.9,16.2 M330.6,68.0 L437.6,54.7 M437.6,54.7 L517.9,71.6" stroke="#888" stroke-width="0.6" stroke-dasharray="0.8 2.2" fill="none" opacity="0.5"/>
<g stroke-width="0.4" stroke-linejoin="round">
<path d="M334.2,51.4 L376.5,60.3 L381.1,61.2 L384.5,62.0 L387.9,62.7 L391.2,63.4 L394.6,64.1 L397.9,64.8 L401.3,65.5 L505.3,52.5 L501.9,51.8 L498.6,51.1 L495.2,50.4 L491.9,49.7 L488.5,49.0 L485.1,48.3 L480.5,47.3 L438.2,38.5Z" fill="url(#g2)"/>
</g>
<path d="M330.6,68.0 L330.6,29.4 M330.6,68.0 L410.9,84.9 M410.9,84.9 L517.9,71.6 M330.6,68.0 L333.1,68.5 M330.6,48.7 L333.1,49.2 M330.6,29.4 L333.1,29.9" stroke="#555" stroke-width="0.7" fill="none" opacity="0.7"/>
<text transform="translate(327.1,70.2) scale(1.80,1.00)" font-size="6" text-anchor="end" stroke="#222" stroke-width="0.2" stroke-opacity="0.85" fill="#222" fill-opacity="0.85">-0.5</text>
<text transform="translate(327.1,50.9) scale(1.80,1.00)" font-size="6" text-anchor="end" stroke="#222" stroke-width="0.2" stroke-opacity="0.85" fill="#222" fill-opacity="0.85">0</text>
<text transform="translate(327.1,31.6) scale(1.80,1.00)" font-size="6" text-anchor="end" stroke="#222" stroke-width="0.2" stroke-opacity="0.85" fill="#222" fill-opacity="0.85">0.5</text>
<text transform="translate(388.9,87.6) scale(1.80,1.00)" font-size="6" text-anchor="middle" stroke="#222" stroke-width="0.2" stroke-opacity="0.85" fill="#222" fill-opacity="0.85">5</text>
<text transform="translate(372.1,84.1) scale(1.80,1.00)" font-size="6" text-anchor="middle" stroke="#222" stroke-width="0.2" stroke-opacity="0.85" fill="#222" fill-opacity="0.85">10</text>
<text transform="translate(355.4,80.6) scale(1.80,1.00)" font-size="6" text-anchor="middle" stroke="#222" stroke-width="0.2" stroke-opacity="0.85" fill="#222" fill-opacity="0.85">15</text>
<text transform="translate(338.6,77.1) scale(1.80,1.00)" font-size="6" text-anchor="middle" stroke="#222" stroke-width="0.2" stroke-opacity="0.85" fill="#222" fill-opacity="0.85">20</text>
<text transform="translate(321.9,73.6) scale(1.80,1.00)" font-size="6" text-anchor="middle" stroke="#222" stroke-width="0.2" stroke-opacity="0.85" fill="#222" fill-opacity="0.85">25</text>
<text transform="translate(420.4,91.1) scale(1.80,1.00)" font-size="6" text-anchor="middle" stroke="#222" stroke-width="0.2" stroke-opacity="0.85" fill="#222" fill-opacity="0.85">1</text>
<text transform="translate(455.1,86.8) scale(1.80,1.00)" font-size="6" text-anchor="middle" stroke="#222" stroke-width="0.2" stroke-opacity="0.85" fill="#222" fill-opacity="0.85">2</text>
<text transform="translate(489.7,82.4) scale(1.80,1.00)" font-size="6" text-anchor="middle" stroke="#222" stroke-width="0.2" stroke-opacity="0.85" fill="#222" fill-opacity="0.85">3</text>
<text transform="translate(524.4,78.1) scale(1.80,1.00)" font-size="6" text-anchor="middle" stroke="#222" stroke-width="0.2" stroke-opacity="0.85" fill="#222" fill-opacity="0.85">4</text>
<text transform="translate(344.9,88.6) scale(1.80,1.00) rotate(20.7)" font-size="6" text-anchor="middle" font-style="italic" stroke="#222" stroke-width="0.2" stroke-opacity="0.85" fill="#222" fill-opacity="0.85">V<tspan font-size="4.5" dy="1.5">W</tspan><tspan dy="-1.5"> (m/s)</tspan></text>
<text transform="translate(485.4,90.2) scale(1.80,1.00) rotate(-12.6)" font-size="6" text-anchor="middle" stroke="#222" stroke-width="0.2" stroke-opacity="0.85" fill="#222" fill-opacity="0.85">V<tspan font-size="4.5" dy="1.5"> MR</tspan><tspan dy="-1.5"> (m/s)</tspan></text>
<text transform="translate(297.8,49.7) scale(2.30,0.82) rotate(-90.0)" font-size="6" text-anchor="middle" stroke="#222" stroke-width="0.2" stroke-opacity="0.85" fill="#222" fill-opacity="0.85">Q<tspan font-size="4.5" dy="1.5">w</tspan><tspan dy="-1.5"> (p.u.)</tspan></text>
<text transform="translate(410.0,104.4) scale(2.00,1.00)" font-size="7.5" text-anchor="middle" font-weight="bold" fill="#222" fill-opacity="0.9">(b)</text>
</g>
<g>
<path d="M589.6,68.0 L696.6,54.7 M696.6,54.7 L776.9,71.6 M589.6,55.1 L696.6,41.8 M696.6,41.8 L776.9,58.7 M589.6,42.3 L696.6,29.0 M696.6,29.0 L776.9,45.8 M589.6,29.4 L696.6,16.1 M696.6,16.1 L776.9,33.0 M589.6,29.4 L696.6,16.1 M696.6,16.1 L776.9,33.0 M696.6,54.7 L696.6,16.1 M776.9,71.6 L776.9,33.0 M589.6,68.0 L589.6,29.4 M589.6,68.0 L669.9,84.9 M624.3,63.7 L624.3,25.1 M624.3,63.7 L704.6,80.6 M658.9,59.4 L658.9,20.8 M658.9,59.4 L739.2,76.2 M693.6,55.1 L693.6,16.5 M693.6,55.1 L773.9,71.9 M656.9,82.1 L763.9,68.8 M763.9,68.8 L763.9,30.2 M640.1,78.6 L747.1,65.3 M747.1,65.3 L747.1,26.7 M623.4,75.1 L730.4,61.8 M730.4,61.8 L730.4,23.2 M606.6,71.6 L713.6,58.3 M713.6,58.3 L713.6,19.7 M589.9,68.1 L696.9,54.8 M696.9,54.8 L696.9,16.2 M589.6,68.0 L696.6,54.7 M696.6,54.7 L776.9,71.6" stroke="#888" stroke-width="0.6" stroke-dasharray="0.8 2.2" fill="none" opacity="0.5"/>
<g stroke-width="0.4" stroke-linejoin="round">
<path d="M660.3,80.8 L677.6,73.7 L694.9,62.1 L712.3,44.2 L729.6,42.1 L746.9,39.9 L764.3,37.7 L697.2,23.7 L679.9,25.8 L662.5,28.0 L645.2,30.1 L627.9,48.0 L610.5,59.7 L593.2,66.7Z" fill="url(#g3)"/>
</g>
<path d="M589.6,68.0 L589.6,29.4 M589.6,68.0 L669.9,84.9 M669.9,84.9 L776.9,71.6 M589.6,68.0 L592.1,68.5 M589.6,55.1 L592.1,55.6 M589.6,42.3 L592.1,42.8 M589.6,29.4 L592.1,29.9" stroke="#555" stroke-width="0.7" fill="none" opacity="0.7"/>
<text transform="translate(586.1,70.2) scale(1.80,1.00)" font-size="6" text-anchor="end" stroke="#222" stroke-width="0.2" stroke-opacity="0.85" fill="#222" fill-opacity="0.85">0</text>
<text transform="translate(586.1,57.3) scale(1.80,1.00)" font-size="6" text-anchor="end" stroke="#222" stroke-width="0.2" stroke-opacity="0.85" fill="#222" fill-opacity="0.85">0.2</text>
<text transform="translate(586.1,44.5) scale(1.80,1.00)" font-size="6" text-anchor="end" stroke="#222" stroke-width="0.2" stroke-opacity="0.85" fill="#222" fill-opacity="0.85">0.4</text>
<text transform="translate(586.1,31.6) scale(1.80,1.00)" font-size="6" text-anchor="end" stroke="#222" stroke-width="0.2" stroke-opacity="0.85" fill="#222" fill-opacity="0.85">0.6</text>
<text transform="translate(647.9,87.6) scale(1.80,1.00)" font-size="6" text-anchor="middle" stroke="#222" stroke-width="0.2" stroke-opacity="0.85" fill="#222" fill-opacity="0.85">5</text>
<text transform="translate(631.1,84.1) scale(1.80,1.00)" font-size="6" text-anchor="middle" stroke="#222" stroke-width="0.2" stroke-opacity="0.85" fill="#222" fill-opacity="0.85">10</text>
<text transform="translate(614.4,80.6) scale(1.80,1.00)" font-size="6" text-anchor="middle" stroke="#222" stroke-width="0.2" stroke-opacity="0.85" fill="#222" fill-opacity="0.85">15</text>
<text transform="translate(597.6,77.1) scale(1.80,1.00)" font-size="6" text-anchor="middle" stroke="#222" stroke-width="0.2" stroke-opacity="0.85" fill="#222" fill-opacity="0.85">20</text>
<text transform="translate(580.9,73.6) scale(1.80,1.00)" font-size="6" text-anchor="middle" stroke="#222" stroke-width="0.2" stroke-opacity="0.85" fill="#222" fill-opacity="0.85">25</text>
<text transform="translate(679.4,91.1) scale(1.80,1.00)" font-size="6" text-anchor="middle" stroke="#222" stroke-width="0.2" stroke-opacity="0.85" fill="#222" fill-opacity="0.85">1</text>
<text transform="translate(714.1,86.8) scale(1.80,1.00)" font-size="6" text-anchor="middle" stroke="#222" stroke-width="0.2" stroke-opacity="0.85" fill="#222" fill-opacity="0.85">2</text>
<text transform="translate(748.7,82.4) scale(1.80,1.00)" font-size="6" text-anchor="middle" stroke="#222" stroke-width="0.2" stroke-opacity="0.85" fill="#222" fill-opacity="0.85">3</text>
<text transform="translate(783.4,78.1) scale(1.80,1.00)" font-size="6" text-anchor="middle" stroke="#222" stroke-width="0.2" stroke-opacity="0.85" fill="#222" fill-opacity="0.85">4</text>
<text transform="translate(603.9,88.6) scale(1.80,1.00) rotate(20.7)" font-size="6" text-anchor="middle" font-style="italic" stroke="#222" stroke-width="0.2" stroke-opacity="0.85" fill="#222" fill-opacity="0.85">V<tspan font-size="4.5" dy="1.5">W</tspan><tspan dy="-1.5"> (m/s)</tspan></text>
<text transform="translate(744.4,90.2) scale(1.80,1.00) rotate(-12.6)" font-size="6" text-anchor="middle" stroke="#222" stroke-width="0.2" stroke-opacity="0.85" fill="#222" fill-opacity="0.85">V<tspan font-size="4.5" dy="1.5"> MR</tspan><tspan dy="-1.5"> (m/s)</tspan></text>
<text transform="translate(562.8,49.7) scale(2.30,0.82) rotate(-90.0)" font-size="6" text-anchor="middle" stroke="#222" stroke-width="0.2" stroke-opacity="0.85" fill="#222" fill-opacity="0.85">P<tspan font-size="4.5" dy="1.5">mr</tspan><tspan dy="-1.5"> (p.u.)</tspan></text>
<text transform="translate(657.7,104.1) scale(2.00,1.00)" font-size="7.5" text-anchor="middle" font-weight="bold" fill="#222" fill-opacity="0.9">(c)</text>
</g>
<g>
<path d="M857.0,68.0 L964.5,56.4 M964.5,56.4 L1044.8,73.3 M857.0,48.7 L964.5,37.1 M964.5,37.1 L1044.8,54.0 M857.0,29.4 L964.5,17.8 M964.5,17.8 L1044.8,34.7 M857.0,29.4 L964.5,17.8 M964.5,17.8 L1044.8,34.7 M964.5,56.4 L964.5,17.8 M1044.8,73.3 L1044.8,34.7 M857.0,68.0 L857.0,29.4 M857.0,68.0 L937.3,84.9 M891.8,64.2 L891.8,25.6 M891.8,64.2 L972.1,81.1 M926.7,60.5 L926.7,21.9 M926.7,60.5 L1007.0,77.4 M961.5,56.7 L961.5,18.1 M961.5,56.7 L1041.8,73.6 M924.3,82.1 L1031.8,70.5 M1031.8,70.5 L1031.8,31.9 M907.5,78.6 L1015.0,67.0 M1015.0,67.0 L1015.0,28.4 M890.8,75.1 L998.3,63.5 M998.3,63.5 L998.3,24.9 M874.0,71.6 L981.5,60.0 M981.5,60.0 L981.5,21.4 M857.3,68.1 L964.8,56.5 M964.8,56.5 L964.8,17.9 M857.0,68.0 L964.5,56.4 M964.5,56.4 L1044.8,73.3" stroke="#888" stroke-width="0.6" stroke-dasharray="0.8 2.2" fill="none" opacity="0.5"/>
<g stroke-width="0.4" stroke-linejoin="round">
<path d="M927.7,71.3 L937.3,70.2 L943.8,69.5 L948.1,69.1 L951.3,68.7 L954.5,68.4 L956.9,68.1 L964.7,67.3 L1032.1,60.0 L965.1,45.9 L897.7,53.2 L889.9,54.0 L887.5,54.3 L884.3,54.6 L881.0,55.0 L876.7,55.4 L870.3,56.1 L860.6,57.2Z" fill="url(#g4)"/>
</g>
<path d="M857.0,68.0 L857.0,29.4 M857.0,68.0 L937.3,84.9 M937.3,84.9 L1044.8,73.3 M857.0,68.0 L859.5,68.5 M857.0,48.7 L859.5,49.2 M857.0,29.4 L859.5,29.9" stroke="#555" stroke-width="0.7" fill="none" opacity="0.7"/>
<text transform="translate(853.5,70.2) scale(1.80,1.00)" font-size="6" text-anchor="end" stroke="#222" stroke-width="0.2" stroke-opacity="0.85" fill="#222" fill-opacity="0.85">-1</text>
<text transform="translate(853.5,50.9) scale(1.80,1.00)" font-size="6" text-anchor="end" stroke="#222" stroke-width="0.2" stroke-opacity="0.85" fill="#222" fill-opacity="0.85">-0.5</text>
<text transform="translate(853.5,31.6) scale(1.80,1.00)" font-size="6" text-anchor="end" stroke="#222" stroke-width="0.2" stroke-opacity="0.85" fill="#222" fill-opacity="0.85">0</text>
<text transform="translate(915.3,87.6) scale(1.80,1.00)" font-size="6" text-anchor="middle" stroke="#222" stroke-width="0.2" stroke-opacity="0.85" fill="#222" fill-opacity="0.85">5</text>
<text transform="translate(898.5,84.1) scale(1.80,1.00)" font-size="6" text-anchor="middle" stroke="#222" stroke-width="0.2" stroke-opacity="0.85" fill="#222" fill-opacity="0.85">10</text>
<text transform="translate(881.8,80.6) scale(1.80,1.00)" font-size="6" text-anchor="middle" stroke="#222" stroke-width="0.2" stroke-opacity="0.85" fill="#222" fill-opacity="0.85">15</text>
<text transform="translate(865.0,77.1) scale(1.80,1.00)" font-size="6" text-anchor="middle" stroke="#222" stroke-width="0.2" stroke-opacity="0.85" fill="#222" fill-opacity="0.85">20</text>
<text transform="translate(848.3,73.6) scale(1.80,1.00)" font-size="6" text-anchor="middle" stroke="#222" stroke-width="0.2" stroke-opacity="0.85" fill="#222" fill-opacity="0.85">25</text>
<text transform="translate(946.8,91.1) scale(1.80,1.00)" font-size="6" text-anchor="middle" stroke="#222" stroke-width="0.2" stroke-opacity="0.85" fill="#222" fill-opacity="0.85">1</text>
<text transform="translate(981.6,87.3) scale(1.80,1.00)" font-size="6" text-anchor="middle" stroke="#222" stroke-width="0.2" stroke-opacity="0.85" fill="#222" fill-opacity="0.85">2</text>
<text transform="translate(1016.5,83.6) scale(1.80,1.00)" font-size="6" text-anchor="middle" stroke="#222" stroke-width="0.2" stroke-opacity="0.85" fill="#222" fill-opacity="0.85">3</text>
<text transform="translate(1051.3,79.8) scale(1.80,1.00)" font-size="6" text-anchor="middle" stroke="#222" stroke-width="0.2" stroke-opacity="0.85" fill="#222" fill-opacity="0.85">4</text>
<text transform="translate(871.3,88.6) scale(1.80,1.00) rotate(20.7)" font-size="6" text-anchor="middle" font-style="italic" stroke="#222" stroke-width="0.2" stroke-opacity="0.85" fill="#222" fill-opacity="0.85">V<tspan font-size="4.5" dy="1.5">W</tspan><tspan dy="-1.5"> (m/s)</tspan></text>
<text transform="translate(1012.0,91.1) scale(1.80,1.00) rotate(-11.0)" font-size="6" text-anchor="middle" stroke="#222" stroke-width="0.2" stroke-opacity="0.85" fill="#222" fill-opacity="0.85">V<tspan font-size="4.5" dy="1.5"> MR</tspan><tspan dy="-1.5"> (m/s)</tspan></text>
<text transform="translate(826.7,49.7) scale(2.30,0.82) rotate(-90.0)" font-size="6" text-anchor="middle" stroke="#222" stroke-width="0.2" stroke-opacity="0.85" fill="#222" fill-opacity="0.85">Q<tspan font-size="4.5" dy="1.5">mr</tspan><tspan dy="-1.5"> (p.u.)</tspan></text>
<text transform="translate(949.8,104.1) scale(2.00,1.00)" font-size="7.5" text-anchor="middle" font-weight="bold" fill="#222" fill-opacity="0.9">(d)</text>
</g>
<g>
<path d="M62.0,163.8 L171.7,150.2 M171.7,150.2 L253.6,167.4 M62.0,153.1 L171.7,139.5 M171.7,139.5 L253.6,156.7 M62.0,142.4 L171.7,128.8 M171.7,128.8 L253.6,146.0 M62.0,131.7 L171.7,118.1 M171.7,118.1 L253.6,135.3 M62.0,125.8 L171.7,112.2 M171.7,112.2 L253.6,129.4 M171.7,150.2 L171.7,112.2 M253.6,167.4 L253.6,129.4 M62.0,163.8 L62.0,125.8 M62.0,163.8 L143.9,181.0 M97.5,159.4 L97.5,121.4 M97.5,159.4 L179.4,176.6 M133.1,155.0 L133.1,117.0 M133.1,155.0 L215.0,172.2 M168.6,150.5 L168.6,112.5 M168.6,150.5 L250.5,167.8 M130.6,178.2 L240.3,164.6 M240.3,164.6 L240.3,126.6 M113.5,174.6 L223.2,161.0 M223.2,161.0 L223.2,123.0 M96.5,171.0 L206.1,157.4 M206.1,157.4 L206.1,119.4 M79.4,167.4 L189.0,153.8 M189.0,153.8 L189.0,115.8 M62.3,163.9 L171.9,150.2 M171.9,150.2 L171.9,112.2 M62.0,163.8 L171.7,150.2 M171.7,150.2 L253.6,167.4" stroke="#888" stroke-width="0.6" stroke-dasharray="0.8 2.2" fill="none" opacity="0.5"/>
<g stroke-width="0.4" stroke-linejoin="round">
<path d="M65.7,132.8 L66.5,133.2 L67.4,133.5 L68.2,133.9 L69.1,134.3 L70.0,134.7 L70.8,135.1 L71.7,135.4 L72.5,135.8 L73.4,136.3 L74.2,136.8 L75.1,137.3 L75.9,137.8 L76.8,138.3 L77.7,138.8 L78.5,139.3 L79.4,139.8 L80.2,140.3 L81.1,141.0 L81.9,141.8 L82.8,142.5 L83.6,143.2 L84.5,143.9 L85.3,144.7 L86.2,145.7 L87.1,146.7 L87.9,147.7 L88.8,148.7 L89.6,149.7 L90.5,150.9 L91.3,152.3 L92.2,153.7 L93.0,155.1 L93.9,156.8 L94.7,158.4 L95.6,160.1 L96.5,161.7 L97.3,163.4 L98.2,165.1 L99.0,166.8 L99.9,168.8 L100.7,170.8 L101.6,172.1 L102.4,172.3 L103.3,172.5 L104.1,172.7 L105.0,172.8 L105.9,173.0 L106.7,173.2 L107.6,173.4 L108.4,173.6 L109.3,173.7 L110.1,173.9 L111.0,174.1 L111.8,174.3 L112.7,174.4 L113.5,174.6 L114.4,174.8 L115.3,175.0 L116.1,175.2 L117.0,175.3 L117.8,175.5 L118.7,175.7 L119.5,175.9 L120.4,176.1 L121.2,176.2 L122.1,176.4 L122.9,176.6 L123.8,176.8 L124.7,177.0 L125.5,177.1 L126.4,177.3 L127.2,177.5 L128.1,177.7 L128.9,177.9 L129.8,178.0 L130.6,178.2 L131.5,178.4 L132.3,178.6 L133.2,178.8 L134.1,178.9 L240.7,165.7 L239.8,165.5 L239.0,165.3 L238.1,165.1 L237.2,165.0 L236.4,164.8 L235.5,164.6 L234.7,164.4 L233.8,164.2 L233.0,164.1 L232.1,163.9 L231.3,163.7 L230.4,163.5 L229.6,163.4 L228.7,163.2 L227.8,163.0 L227.0,162.8 L226.1,162.6 L225.3,162.5 L224.4,162.3 L223.6,162.1 L222.7,161.9 L221.9,161.7 L221.0,161.6 L220.2,161.4 L219.3,161.2 L218.4,161.0 L217.6,160.8 L216.7,160.7 L215.9,160.5 L215.0,160.3 L214.2,160.1 L213.3,159.9 L212.5,159.8 L211.6,159.6 L210.7,159.4 L209.9,159.2 L209.0,159.0 L208.2,158.9 L207.3,157.6 L206.5,155.5 L205.6,153.5 L204.8,151.8 L203.9,150.1 L203.1,148.5 L202.2,146.8 L201.3,145.2 L200.5,143.5 L199.6,141.9 L198.8,140.5 L197.9,139.1 L197.1,137.7 L196.2,136.4 L195.4,135.4 L194.5,134.4 L193.7,133.4 L192.8,132.4 L191.9,131.4 L191.1,130.7 L190.2,129.9 L189.4,129.2 L188.5,128.5 L187.7,127.8 L186.8,127.1 L186.0,126.5 L185.1,126.0 L184.3,125.5 L183.4,125.1 L182.5,124.6 L181.7,124.1 L180.8,123.6 L180.0,123.1 L179.1,122.6 L178.3,122.2 L177.4,121.8 L176.6,121.4 L175.7,121.1 L174.9,120.7 L174.0,120.3 L173.1,119.9 L172.3,119.5Z" fill="url(#g5)"/>
</g>
<path d="M62.0,163.8 L62.0,125.8 M62.0,163.8 L143.9,181.0 M143.9,181.0 L253.6,167.4 M62.0,163.8 L64.5,164.3 M62.0,153.1 L64.5,153.6 M62.0,142.4 L64.5,142.9 M62.0,131.7 L64.5,132.2" stroke="#555" stroke-width="0.7" fill="none" opacity="0.7"/>
<text transform="translate(58.5,166.0) scale(1.80,1.00)" font-size="6" text-anchor="end" stroke="#222" stroke-width="0.2" stroke-opacity="0.85" fill="#222" fill-opacity="0.85">0</text>
<text transform="translate(58.5,155.3) scale(1.80,1.00)" font-size="6" text-anchor="end" stroke="#222" stroke-width="0.2" stroke-opacity="0.85" fill="#222" fill-opacity="0.85">10</text>
<text transform="translate(58.5,144.6) scale(1.80,1.00)" font-size="6" text-anchor="end" stroke="#222" stroke-width="0.2" stroke-opacity="0.85" fill="#222" fill-opacity="0.85">20</text>
<text transform="translate(58.5,133.9) scale(1.80,1.00)" font-size="6" text-anchor="end" stroke="#222" stroke-width="0.2" stroke-opacity="0.85" fill="#222" fill-opacity="0.85">30</text>
<text transform="translate(121.6,183.7) scale(1.80,1.00)" font-size="6" text-anchor="middle" stroke="#222" stroke-width="0.2" stroke-opacity="0.85" fill="#222" fill-opacity="0.85">5</text>
<text transform="translate(104.5,180.1) scale(1.80,1.00)" font-size="6" text-anchor="middle" stroke="#222" stroke-width="0.2" stroke-opacity="0.85" fill="#222" fill-opacity="0.85">10</text>
<text transform="translate(87.5,176.5) scale(1.80,1.00)" font-size="6" text-anchor="middle" stroke="#222" stroke-width="0.2" stroke-opacity="0.85" fill="#222" fill-opacity="0.85">15</text>
<text transform="translate(70.4,172.9) scale(1.80,1.00)" font-size="6" text-anchor="middle" stroke="#222" stroke-width="0.2" stroke-opacity="0.85" fill="#222" fill-opacity="0.85">20</text>
<text transform="translate(53.3,169.4) scale(1.80,1.00)" font-size="6" text-anchor="middle" stroke="#222" stroke-width="0.2" stroke-opacity="0.85" fill="#222" fill-opacity="0.85">25</text>
<text transform="translate(153.4,187.2) scale(1.80,1.00)" font-size="6" text-anchor="middle" stroke="#222" stroke-width="0.2" stroke-opacity="0.85" fill="#222" fill-opacity="0.85">1</text>
<text transform="translate(188.9,182.8) scale(1.80,1.00)" font-size="6" text-anchor="middle" stroke="#222" stroke-width="0.2" stroke-opacity="0.85" fill="#222" fill-opacity="0.85">2</text>
<text transform="translate(224.5,178.4) scale(1.80,1.00)" font-size="6" text-anchor="middle" stroke="#222" stroke-width="0.2" stroke-opacity="0.85" fill="#222" fill-opacity="0.85">3</text>
<text transform="translate(260.0,174.0) scale(1.80,1.00)" font-size="6" text-anchor="middle" stroke="#222" stroke-width="0.2" stroke-opacity="0.85" fill="#222" fill-opacity="0.85">4</text>
<text transform="translate(77.1,184.6) scale(1.80,1.00) rotate(20.7)" font-size="6" text-anchor="middle" font-style="italic" stroke="#222" stroke-width="0.2" stroke-opacity="0.85" fill="#222" fill-opacity="0.85">V<tspan font-size="4.5" dy="1.5">W</tspan><tspan dy="-1.5"> (m/s)</tspan></text>
<text transform="translate(219.7,186.2) scale(1.80,1.00) rotate(-12.6)" font-size="6" text-anchor="middle" stroke="#222" stroke-width="0.2" stroke-opacity="0.85" fill="#222" fill-opacity="0.85">V<tspan font-size="4.5" dy="1.5"> MR</tspan><tspan dy="-1.5"> (m/s)</tspan></text>
<text transform="translate(35.8,145.8) scale(2.30,0.82) rotate(-90.0)" font-size="6" text-anchor="middle" stroke="#222" stroke-width="0.2" stroke-opacity="0.85" fill="#222" fill-opacity="0.85">β<tspan font-size="4.5" dy="1.5">w</tspan><tspan dy="-1.5"> (°)</tspan></text>
<text transform="translate(142.8,201.4) scale(2.00,1.00)" font-size="7.5" text-anchor="middle" font-weight="bold" fill="#222" fill-opacity="0.9">(e)</text>
</g>
<g>
<path d="M328.6,163.0 L435.6,149.7 M435.6,149.7 L515.9,166.6 M328.6,150.5 L435.6,137.2 M435.6,137.2 L515.9,154.1 M328.6,138.1 L435.6,124.8 M435.6,124.8 L515.9,141.6 M328.6,125.6 L435.6,112.3 M435.6,112.3 L515.9,129.2 M328.6,125.6 L435.6,112.3 M435.6,112.3 L515.9,129.2 M435.6,149.7 L435.6,112.3 M515.9,166.6 L515.9,129.2 M328.6,163.0 L328.6,125.6 M328.6,163.0 L408.9,179.9 M363.3,158.7 L363.3,121.3 M363.3,158.7 L443.6,175.6 M397.9,154.4 L397.9,117.0 M397.9,154.4 L478.2,171.2 M432.6,150.1 L432.6,112.7 M432.6,150.1 L512.9,166.9 M395.9,177.1 L502.9,163.8 M502.9,163.8 L502.9,126.4 M379.1,173.6 L486.1,160.3 M486.1,160.3 L486.1,122.9 M362.4,170.1 L469.4,156.8 M469.4,156.8 L469.4,119.4 M345.6,166.6 L452.6,153.3 M452.6,153.3 L452.6,115.9 M328.9,163.1 L435.9,149.8 M435.9,149.8 L435.9,112.4 M328.6,163.0 L435.6,149.7 M435.6,149.7 L515.9,166.6" stroke="#888" stroke-width="0.6" stroke-dasharray="0.8 2.2" fill="none" opacity="0.5"/>
<g stroke-width="0.4" stroke-linejoin="round">
<path d="M399.3,177.8 L416.6,175.7 L433.9,173.5 L451.3,171.4 L468.6,156.4 L485.9,142.4 L503.3,130.0 L436.2,115.9 L418.9,128.3 L401.5,142.3 L384.2,157.3 L366.9,159.4 L349.5,161.6 L332.2,163.8Z" fill="url(#g6)"/>
</g>
<path d="M328.6,163.0 L328.6,125.6 M328.6,163.0 L408.9,179.9 M408.9,179.9 L515.9,166.6 M328.6,163.0 L331.1,163.5 M328.6,150.5 L331.1,151.0 M328.6,138.1 L331.1,138.6 M328.6,125.6 L331.1,126.1" stroke="#555" stroke-width="0.7" fill="none" opacity="0.7"/>
<text transform="translate(325.1,165.2) scale(1.80,1.00)" font-size="6" text-anchor="end" stroke="#222" stroke-width="0.2" stroke-opacity="0.85" fill="#222" fill-opacity="0.85">0</text>
<text transform="translate(325.1,152.7) scale(1.80,1.00)" font-size="6" text-anchor="end" stroke="#222" stroke-width="0.2" stroke-opacity="0.85" fill="#222" fill-opacity="0.85">10</text>
<text transform="translate(325.1,140.3) scale(1.80,1.00)" font-size="6" text-anchor="end" stroke="#222" stroke-width="0.2" stroke-opacity="0.85" fill="#222" fill-opacity="0.85">20</text>
<text transform="translate(325.1,127.8) scale(1.80,1.00)" font-size="6" text-anchor="end" stroke="#222" stroke-width="0.2" stroke-opacity="0.85" fill="#222" fill-opacity="0.85">30</text>
<text transform="translate(386.9,182.6) scale(1.80,1.00)" font-size="6" text-anchor="middle" stroke="#222" stroke-width="0.2" stroke-opacity="0.85" fill="#222" fill-opacity="0.85">5</text>
<text transform="translate(370.1,179.1) scale(1.80,1.00)" font-size="6" text-anchor="middle" stroke="#222" stroke-width="0.2" stroke-opacity="0.85" fill="#222" fill-opacity="0.85">10</text>
<text transform="translate(353.4,175.6) scale(1.80,1.00)" font-size="6" text-anchor="middle" stroke="#222" stroke-width="0.2" stroke-opacity="0.85" fill="#222" fill-opacity="0.85">15</text>
<text transform="translate(336.6,172.1) scale(1.80,1.00)" font-size="6" text-anchor="middle" stroke="#222" stroke-width="0.2" stroke-opacity="0.85" fill="#222" fill-opacity="0.85">20</text>
<text transform="translate(319.9,168.6) scale(1.80,1.00)" font-size="6" text-anchor="middle" stroke="#222" stroke-width="0.2" stroke-opacity="0.85" fill="#222" fill-opacity="0.85">25</text>
<text transform="translate(418.4,186.1) scale(1.80,1.00)" font-size="6" text-anchor="middle" stroke="#222" stroke-width="0.2" stroke-opacity="0.85" fill="#222" fill-opacity="0.85">1</text>
<text transform="translate(453.1,181.8) scale(1.80,1.00)" font-size="6" text-anchor="middle" stroke="#222" stroke-width="0.2" stroke-opacity="0.85" fill="#222" fill-opacity="0.85">2</text>
<text transform="translate(487.7,177.4) scale(1.80,1.00)" font-size="6" text-anchor="middle" stroke="#222" stroke-width="0.2" stroke-opacity="0.85" fill="#222" fill-opacity="0.85">3</text>
<text transform="translate(522.4,173.1) scale(1.80,1.00)" font-size="6" text-anchor="middle" stroke="#222" stroke-width="0.2" stroke-opacity="0.85" fill="#222" fill-opacity="0.85">4</text>
<text transform="translate(342.9,183.6) scale(1.80,1.00) rotate(20.7)" font-size="6" text-anchor="middle" font-style="italic" stroke="#222" stroke-width="0.2" stroke-opacity="0.85" fill="#222" fill-opacity="0.85">V<tspan font-size="4.5" dy="1.5">W</tspan><tspan dy="-1.5"> (m/s)</tspan></text>
<text transform="translate(483.4,185.2) scale(1.80,1.00) rotate(-12.6)" font-size="6" text-anchor="middle" stroke="#222" stroke-width="0.2" stroke-opacity="0.85" fill="#222" fill-opacity="0.85">V<tspan font-size="4.5" dy="1.5"> MR</tspan><tspan dy="-1.5"> (m/s)</tspan></text>
<text transform="translate(302.4,145.3) scale(2.30,0.82) rotate(-90.0)" font-size="6" text-anchor="middle" stroke="#222" stroke-width="0.2" stroke-opacity="0.85" fill="#222" fill-opacity="0.85">β<tspan font-size="4.5" dy="1.5">mr</tspan><tspan dy="-1.5"> (°)</tspan></text>
<text transform="translate(407.0,201.4) scale(2.00,1.00)" font-size="7.5" text-anchor="middle" font-weight="bold" fill="#222" fill-opacity="0.9">(f)</text>
</g>
<g>
<path d="M591.0,163.6 L698.0,150.3 M698.0,150.3 L778.3,167.2 M591.0,144.6 L698.0,131.3 M698.0,131.3 L778.3,148.2 M591.0,125.6 L698.0,112.3 M698.0,112.3 L778.3,129.2 M591.0,125.6 L698.0,112.3 M698.0,112.3 L778.3,129.2 M698.0,150.3 L698.0,112.3 M778.3,167.2 L778.3,129.2 M591.0,163.6 L591.0,125.6 M591.0,163.6 L671.3,180.5 M625.7,159.3 L625.7,121.3 M625.7,159.3 L706.0,176.2 M660.3,155.0 L660.3,117.0 M660.3,155.0 L740.6,171.8 M695.0,150.7 L695.0,112.7 M695.0,150.7 L775.3,167.5 M658.3,177.7 L765.3,164.4 M765.3,164.4 L765.3,126.4 M641.5,174.2 L748.5,160.9 M748.5,160.9 L748.5,122.9 M624.8,170.7 L731.8,157.4 M731.8,157.4 L731.8,119.4 M608.0,167.2 L715.0,153.9 M715.0,153.9 L715.0,115.9 M591.3,163.7 L698.3,150.4 M698.3,150.4 L698.3,112.4 M591.0,163.6 L698.0,150.3 M698.0,150.3 L778.3,167.2" stroke="#888" stroke-width="0.6" stroke-dasharray="0.8 2.2" fill="none" opacity="0.5"/>
<g stroke-width="0.4" stroke-linejoin="round">
<path d="M594.6,145.4 L698.6,132.4 L765.7,146.5 L661.7,159.4Z" fill="#80fa70"/>
</g>
<path d="M591.0,163.6 L591.0,125.6 M591.0,163.6 L671.3,180.5 M671.3,180.5 L778.3,167.2 M591.0,163.6 L593.5,164.1 M591.0,144.6 L593.5,145.1 M591.0,125.6 L593.5,126.1" stroke="#555" stroke-width="0.7" fill="none" opacity="0.7"/>
<text transform="translate(587.5,165.8) scale(1.80,1.00)" font-size="6" text-anchor="end" stroke="#222" stroke-width="0.2" stroke-opacity="0.85" fill="#222" fill-opacity="0.85">0</text>
<text transform="translate(587.5,146.8) scale(1.80,1.00)" font-size="6" text-anchor="end" stroke="#222" stroke-width="0.2" stroke-opacity="0.85" fill="#222" fill-opacity="0.85">0.2</text>
<text transform="translate(587.5,127.8) scale(1.80,1.00)" font-size="6" text-anchor="end" stroke="#222" stroke-width="0.2" stroke-opacity="0.85" fill="#222" fill-opacity="0.85">0.4</text>
<text transform="translate(649.3,183.2) scale(1.80,1.00)" font-size="6" text-anchor="middle" stroke="#222" stroke-width="0.2" stroke-opacity="0.85" fill="#222" fill-opacity="0.85">5</text>
<text transform="translate(632.5,179.7) scale(1.80,1.00)" font-size="6" text-anchor="middle" stroke="#222" stroke-width="0.2" stroke-opacity="0.85" fill="#222" fill-opacity="0.85">10</text>
<text transform="translate(615.8,176.2) scale(1.80,1.00)" font-size="6" text-anchor="middle" stroke="#222" stroke-width="0.2" stroke-opacity="0.85" fill="#222" fill-opacity="0.85">15</text>
<text transform="translate(599.0,172.7) scale(1.80,1.00)" font-size="6" text-anchor="middle" stroke="#222" stroke-width="0.2" stroke-opacity="0.85" fill="#222" fill-opacity="0.85">20</text>
<text transform="translate(582.3,169.2) scale(1.80,1.00)" font-size="6" text-anchor="middle" stroke="#222" stroke-width="0.2" stroke-opacity="0.85" fill="#222" fill-opacity="0.85">25</text>
<text transform="translate(680.8,186.7) scale(1.80,1.00)" font-size="6" text-anchor="middle" stroke="#222" stroke-width="0.2" stroke-opacity="0.85" fill="#222" fill-opacity="0.85">1</text>
<text transform="translate(715.5,182.4) scale(1.80,1.00)" font-size="6" text-anchor="middle" stroke="#222" stroke-width="0.2" stroke-opacity="0.85" fill="#222" fill-opacity="0.85">2</text>
<text transform="translate(750.1,178.0) scale(1.80,1.00)" font-size="6" text-anchor="middle" stroke="#222" stroke-width="0.2" stroke-opacity="0.85" fill="#222" fill-opacity="0.85">3</text>
<text transform="translate(784.8,173.7) scale(1.80,1.00)" font-size="6" text-anchor="middle" stroke="#222" stroke-width="0.2" stroke-opacity="0.85" fill="#222" fill-opacity="0.85">4</text>
<text transform="translate(605.3,184.2) scale(1.80,1.00) rotate(20.7)" font-size="6" text-anchor="middle" font-style="italic" stroke="#222" stroke-width="0.2" stroke-opacity="0.85" fill="#222" fill-opacity="0.85">V<tspan font-size="4.5" dy="1.5">W</tspan><tspan dy="-1.5"> (m/s)</tspan></text>
<text transform="translate(745.8,185.8) scale(1.80,1.00) rotate(-12.6)" font-size="6" text-anchor="middle" stroke="#222" stroke-width="0.2" stroke-opacity="0.85" fill="#222" fill-opacity="0.85">V<tspan font-size="4.5" dy="1.5"> MR</tspan><tspan dy="-1.5"> (m/s)</tspan></text>
<text transform="translate(562.2,145.6) scale(2.30,0.82) rotate(-90.0)" font-size="6" text-anchor="middle" stroke="#222" stroke-width="0.2" stroke-opacity="0.85" fill="#222" fill-opacity="0.85">P<tspan font-size="4.5" dy="1.5">L</tspan><tspan dy="-1.5"> (p.u.)</tspan></text>
<text transform="translate(659.5,201.4) scale(2.00,1.00)" font-size="7.5" text-anchor="middle" font-weight="bold" fill="#222" fill-opacity="0.9">(g)</text>
</g>
<g>
<path d="M854.0,163.6 L961.0,150.3 M961.0,150.3 L1041.3,167.2 M854.0,144.6 L961.0,131.3 M961.0,131.3 L1041.3,148.2 M854.0,125.6 L961.0,112.3 M961.0,112.3 L1041.3,129.2 M854.0,125.6 L961.0,112.3 M961.0,112.3 L1041.3,129.2 M961.0,150.3 L961.0,112.3 M1041.3,167.2 L1041.3,129.2 M854.0,163.6 L854.0,125.6 M854.0,163.6 L934.3,180.5 M888.7,159.3 L888.7,121.3 M888.7,159.3 L969.0,176.2 M923.3,155.0 L923.3,117.0 M923.3,155.0 L1003.6,171.8 M958.0,150.7 L958.0,112.7 M958.0,150.7 L1038.3,167.5 M921.3,177.7 L1028.3,164.4 M1028.3,164.4 L1028.3,126.4 M904.5,174.2 L1011.5,160.9 M1011.5,160.9 L1011.5,122.9 M887.8,170.7 L994.8,157.4 M994.8,157.4 L994.8,119.4 M871.0,167.2 L978.0,153.9 M978.0,153.9 L978.0,115.9 M854.3,163.7 L961.3,150.4 M961.3,150.4 L961.3,112.4 M854.0,163.6 L961.0,150.3 M961.0,150.3 L1041.3,167.2" stroke="#888" stroke-width="0.6" stroke-dasharray="0.8 2.2" fill="none" opacity="0.5"/>
<g stroke-width="0.4" stroke-linejoin="round">
<path d="M857.6,145.4 L961.6,132.4 L1028.7,146.5 L924.7,159.4Z" fill="#80fa70"/>
</g>
<path d="M854.0,163.6 L854.0,125.6 M854.0,163.6 L934.3,180.5 M934.3,180.5 L1041.3,167.2 M854.0,163.6 L856.5,164.1 M854.0,144.6 L856.5,145.1 M854.0,125.6 L856.5,126.1" stroke="#555" stroke-width="0.7" fill="none" opacity="0.7"/>
<text transform="translate(850.5,165.8) scale(1.80,1.00)" font-size="6" text-anchor="end" stroke="#222" stroke-width="0.2" stroke-opacity="0.85" fill="#222" fill-opacity="0.85">0</text>
<text transform="translate(850.5,146.8) scale(1.80,1.00)" font-size="6" text-anchor="end" stroke="#222" stroke-width="0.2" stroke-opacity="0.85" fill="#222" fill-opacity="0.85">0.1</text>
<text transform="translate(850.5,127.8) scale(1.80,1.00)" font-size="6" text-anchor="end" stroke="#222" stroke-width="0.2" stroke-opacity="0.85" fill="#222" fill-opacity="0.85">0.2</text>
<text transform="translate(912.3,183.2) scale(1.80,1.00)" font-size="6" text-anchor="middle" stroke="#222" stroke-width="0.2" stroke-opacity="0.85" fill="#222" fill-opacity="0.85">5</text>
<text transform="translate(895.5,179.7) scale(1.80,1.00)" font-size="6" text-anchor="middle" stroke="#222" stroke-width="0.2" stroke-opacity="0.85" fill="#222" fill-opacity="0.85">10</text>
<text transform="translate(878.8,176.2) scale(1.80,1.00)" font-size="6" text-anchor="middle" stroke="#222" stroke-width="0.2" stroke-opacity="0.85" fill="#222" fill-opacity="0.85">15</text>
<text transform="translate(862.0,172.7) scale(1.80,1.00)" font-size="6" text-anchor="middle" stroke="#222" stroke-width="0.2" stroke-opacity="0.85" fill="#222" fill-opacity="0.85">20</text>
<text transform="translate(845.3,169.2) scale(1.80,1.00)" font-size="6" text-anchor="middle" stroke="#222" stroke-width="0.2" stroke-opacity="0.85" fill="#222" fill-opacity="0.85">25</text>
<text transform="translate(943.8,186.7) scale(1.80,1.00)" font-size="6" text-anchor="middle" stroke="#222" stroke-width="0.2" stroke-opacity="0.85" fill="#222" fill-opacity="0.85">1</text>
<text transform="translate(978.5,182.4) scale(1.80,1.00)" font-size="6" text-anchor="middle" stroke="#222" stroke-width="0.2" stroke-opacity="0.85" fill="#222" fill-opacity="0.85">2</text>
<text transform="translate(1013.1,178.0) scale(1.80,1.00)" font-size="6" text-anchor="middle" stroke="#222" stroke-width="0.2" stroke-opacity="0.85" fill="#222" fill-opacity="0.85">3</text>
<text transform="translate(1047.8,173.7) scale(1.80,1.00)" font-size="6" text-anchor="middle" stroke="#222" stroke-width="0.2" stroke-opacity="0.85" fill="#222" fill-opacity="0.85">4</text>
<text transform="translate(868.3,184.2) scale(1.80,1.00) rotate(20.7)" font-size="6" text-anchor="middle" font-style="italic" stroke="#222" stroke-width="0.2" stroke-opacity="0.85" fill="#222" fill-opacity="0.85">V<tspan font-size="4.5" dy="1.5">W</tspan><tspan dy="-1.5"> (m/s)</tspan></text>
<text transform="translate(1008.8,185.8) scale(1.80,1.00) rotate(-12.6)" font-size="6" text-anchor="middle" stroke="#222" stroke-width="0.2" stroke-opacity="0.85" fill="#222" fill-opacity="0.85">V<tspan font-size="4.5" dy="1.5"> MR</tspan><tspan dy="-1.5"> (m/s)</tspan></text>
<text transform="translate(824.7,145.6) scale(2.30,0.82) rotate(-90.0)" font-size="6" text-anchor="middle" stroke="#222" stroke-width="0.2" stroke-opacity="0.85" fill="#222" fill-opacity="0.85">Q<tspan font-size="4.5" dy="1.5">L</tspan><tspan dy="-1.5"> (p.u.)</tspan></text>
<text transform="translate(953.5,201.4) scale(2.00,1.00)" font-size="7.5" text-anchor="middle" font-weight="bold" fill="#222" fill-opacity="0.9">(h)</text>
</g>
<g>
<path d="M67.6,255.0 L175.2,242.7 M175.2,242.7 L255.6,258.1 M67.6,246.4 L175.2,234.1 M175.2,234.1 L255.6,249.5 M67.6,237.8 L175.2,225.5 M175.2,225.5 L255.6,240.9 M67.6,229.2 L175.2,216.9 M175.2,216.9 L255.6,232.3 M67.6,220.6 L175.2,208.3 M175.2,208.3 L255.6,223.7 M67.6,220.6 L175.2,208.3 M175.2,208.3 L255.6,223.7 M175.2,242.7 L175.2,208.3 M255.6,258.1 L255.6,223.7 M67.6,255.0 L67.6,220.6 M67.6,255.0 L147.9,270.4 M102.5,251.0 L102.5,216.6 M102.5,251.0 L182.8,266.5 M137.3,247.0 L137.3,212.6 M137.3,247.0 L217.7,262.5 M172.2,243.0 L172.2,208.6 M172.2,243.0 L252.6,258.5 M134.9,268.0 L242.6,255.7 M242.6,255.7 L242.6,221.3 M118.2,264.7 L225.8,252.4 M225.8,252.4 L225.8,218.0 M101.4,261.5 L209.0,249.2 M209.0,249.2 L209.0,214.8 M84.6,258.3 L192.3,246.0 M192.3,246.0 L192.3,211.6 M67.9,255.1 L175.5,242.8 M175.5,242.8 L175.5,208.4 M67.6,255.0 L175.2,242.7 M175.2,242.7 L255.6,258.1" stroke="#888" stroke-width="0.6" stroke-dasharray="0.8 2.2" fill="none" opacity="0.5"/>
<g stroke-width="0.4" stroke-linejoin="round">
<path d="M123.5,220.2 L175.8,214.3 L206.0,220.1Z" fill="#800000" stroke="#800000"/>
<path d="M123.5,220.2 L206.0,220.1 L153.7,226.0Z" fill="#800000" stroke="#800000"/>
<path d="M107.8,226.0 L123.5,220.2 L153.7,226.0Z" fill="url(#g7)" stroke="url(#g7)"/>
<path d="M107.8,226.0 L153.7,226.0 L138.0,231.8Z" fill="url(#g8)" stroke="url(#g8)"/>
<path d="M71.2,234.3 L107.8,226.0 L138.0,231.8Z" fill="url(#g9)" stroke="url(#g9)"/>
<path d="M71.2,234.3 L138.0,231.8 L101.4,240.1Z" fill="url(#g10)" stroke="url(#g10)"/>
<path d="M153.7,226.0 L206.0,220.1 L211.0,223.3Z" fill="url(#g11)" stroke="url(#g11)"/>
<path d="M153.7,226.0 L211.0,223.3 L158.7,229.2Z" fill="url(#g12)" stroke="url(#g12)"/>
<path d="M138.0,231.8 L153.7,226.0 L158.7,229.2Z" fill="url(#g13)" stroke="url(#g13)"/>
<path d="M138.0,231.8 L158.7,229.2 L143.0,235.0Z" fill="url(#g14)" stroke="url(#g14)"/>
<path d="M101.4,240.1 L138.0,231.8 L143.0,235.0Z" fill="url(#g15)" stroke="url(#g15)"/>
<path d="M101.4,240.1 L143.0,235.0 L106.4,243.3Z" fill="url(#g16)" stroke="url(#g16)"/>
<path d="M158.7,229.2 L211.0,223.3 L219.4,231.1Z" fill="url(#g17)" stroke="url(#g17)"/>
<path d="M158.7,229.2 L219.4,231.1 L167.1,237.1Z" fill="url(#g18)" stroke="url(#g18)"/>
<path d="M143.0,235.0 L158.7,229.2 L167.1,237.1Z" fill="url(#g19)" stroke="url(#g19)"/>
<path d="M143.0,235.0 L167.1,237.1 L151.4,242.8Z" fill="url(#g20)" stroke="url(#g20)"/>
<path d="M106.4,243.3 L143.0,235.0 L151.4,242.8Z" fill="url(#g21)" stroke="url(#g21)"/>
<path d="M106.4,243.3 L151.4,242.8 L114.8,251.1Z" fill="url(#g22)" stroke="url(#g22)"/>
<path d="M167.1,237.1 L219.4,231.1 L226.1,236.3Z" fill="url(#g23)" stroke="url(#g23)"/>
<path d="M167.1,237.1 L226.1,236.3 L173.8,242.3Z" fill="url(#g24)" stroke="url(#g24)"/>
<path d="M151.4,242.8 L167.1,237.1 L173.8,242.3Z" fill="url(#g25)" stroke="url(#g25)"/>
<path d="M151.4,242.8 L173.8,242.3 L158.1,248.0Z" fill="url(#g26)" stroke="url(#g26)"/>
<path d="M114.8,251.1 L151.4,242.8 L158.1,248.0Z" fill="url(#g27)" stroke="url(#g27)"/>
<path d="M114.8,251.1 L158.1,248.0 L121.5,256.4Z" fill="url(#g28)" stroke="url(#g28)"/>
<path d="M173.8,242.3 L226.1,236.3 L242.9,243.8Z" fill="url(#g29)" stroke="url(#g29)"/>
<path d="M173.8,242.3 L242.9,243.8 L190.6,249.8Z" fill="url(#g30)" stroke="url(#g30)"/>
<path d="M158.1,248.0 L173.8,242.3 L190.6,249.8Z" fill="url(#g31)" stroke="url(#g31)"/>
<path d="M158.1,248.0 L190.6,249.8 L174.9,255.6Z" fill="url(#g32)" stroke="url(#g32)"/>
<path d="M121.5,256.4 L158.1,248.0 L174.9,255.6Z" fill="url(#g33)" stroke="url(#g33)"/>
<path d="M121.5,256.4 L174.9,255.6 L138.3,263.9Z" fill="url(#g34)" stroke="url(#g34)"/>
</g>
<path d="M67.6,255.0 L67.6,220.6 M67.6,255.0 L147.9,270.4 M147.9,270.4 L255.6,258.1 M67.6,255.0 L70.1,255.5 M67.6,246.4 L70.1,246.9 M67.6,237.8 L70.1,238.3 M67.6,229.2 L70.1,229.7 M67.6,220.6 L70.1,221.1" stroke="#555" stroke-width="0.7" fill="none" opacity="0.7"/>
<text transform="translate(64.1,257.2) scale(1.80,1.00)" font-size="6" text-anchor="end" stroke="#222" stroke-width="0.2" stroke-opacity="0.85" fill="#222" fill-opacity="0.85">-0.5</text>
<text transform="translate(64.1,248.6) scale(1.80,1.00)" font-size="6" text-anchor="end" stroke="#222" stroke-width="0.2" stroke-opacity="0.85" fill="#222" fill-opacity="0.85">0</text>
<text transform="translate(64.1,240.0) scale(1.80,1.00)" font-size="6" text-anchor="end" stroke="#222" stroke-width="0.2" stroke-opacity="0.85" fill="#222" fill-opacity="0.85">0.5</text>
<text transform="translate(64.1,231.4) scale(1.80,1.00)" font-size="6" text-anchor="end" stroke="#222" stroke-width="0.2" stroke-opacity="0.85" fill="#222" fill-opacity="0.85">1</text>
<text transform="translate(64.1,222.8) scale(1.80,1.00)" font-size="6" text-anchor="end" stroke="#222" stroke-width="0.2" stroke-opacity="0.85" fill="#222" fill-opacity="0.85">1.5</text>
<text transform="translate(125.9,273.5) scale(1.80,1.00)" font-size="6" text-anchor="middle" stroke="#222" stroke-width="0.2" stroke-opacity="0.85" fill="#222" fill-opacity="0.85">5</text>
<text transform="translate(109.2,270.2) scale(1.80,1.00)" font-size="6" text-anchor="middle" stroke="#222" stroke-width="0.2" stroke-opacity="0.85" fill="#222" fill-opacity="0.85">10</text>
<text transform="translate(92.4,267.0) scale(1.80,1.00)" font-size="6" text-anchor="middle" stroke="#222" stroke-width="0.2" stroke-opacity="0.85" fill="#222" fill-opacity="0.85">15</text>
<text transform="translate(75.6,263.8) scale(1.80,1.00)" font-size="6" text-anchor="middle" stroke="#222" stroke-width="0.2" stroke-opacity="0.85" fill="#222" fill-opacity="0.85">20</text>
<text transform="translate(58.9,260.6) scale(1.80,1.00)" font-size="6" text-anchor="middle" stroke="#222" stroke-width="0.2" stroke-opacity="0.85" fill="#222" fill-opacity="0.85">25</text>
<text transform="translate(157.4,276.6) scale(1.80,1.00)" font-size="6" text-anchor="middle" stroke="#222" stroke-width="0.2" stroke-opacity="0.85" fill="#222" fill-opacity="0.85">1</text>
<text transform="translate(192.3,272.7) scale(1.80,1.00)" font-size="6" text-anchor="middle" stroke="#222" stroke-width="0.2" stroke-opacity="0.85" fill="#222" fill-opacity="0.85">2</text>
<text transform="translate(227.2,268.7) scale(1.80,1.00)" font-size="6" text-anchor="middle" stroke="#222" stroke-width="0.2" stroke-opacity="0.85" fill="#222" fill-opacity="0.85">3</text>
<text transform="translate(262.1,264.7) scale(1.80,1.00)" font-size="6" text-anchor="middle" stroke="#222" stroke-width="0.2" stroke-opacity="0.85" fill="#222" fill-opacity="0.85">4</text>
<text transform="translate(82.0,274.9) scale(1.80,1.00) rotate(19.1)" font-size="6" text-anchor="middle" font-style="italic" stroke="#222" stroke-width="0.2" stroke-opacity="0.85" fill="#222" fill-opacity="0.85">V<tspan font-size="4.5" dy="1.5">W</tspan><tspan dy="-1.5"> (m/s)</tspan></text>
<text transform="translate(222.8,276.3) scale(1.80,1.00) rotate(-11.6)" font-size="6" text-anchor="middle" stroke="#222" stroke-width="0.2" stroke-opacity="0.85" fill="#222" fill-opacity="0.85">V<tspan font-size="4.5" dy="1.5"> MR</tspan><tspan dy="-1.5"> (m/s)</tspan></text>
<text transform="translate(34.4,238.8) scale(2.30,0.62) rotate(-90.0)" font-size="6" text-anchor="middle" stroke="#222" stroke-width="0.2" stroke-opacity="0.85" fill="#222" fill-opacity="0.85">P<tspan font-size="4.5" dy="1.5">grid</tspan><tspan dy="-1.5"> (p.u.)</tspan></text>
<text transform="translate(137.2,290.4) scale(2.00,1.00)" font-size="7.5" text-anchor="middle" font-weight="bold" fill="#222" fill-opacity="0.9">(i)</text>
</g>
<g>
<path d="M331.0,255.0 L436.0,243.0 M436.0,243.0 L514.8,258.1 M331.0,237.8 L436.0,225.8 M436.0,225.8 L514.8,240.9 M331.0,220.6 L436.0,208.6 M436.0,208.6 L514.8,223.7 M331.0,220.6 L436.0,208.6 M436.0,208.6 L514.8,223.7 M436.0,243.0 L436.0,208.6 M514.8,258.1 L514.8,223.7 M331.0,255.0 L331.0,220.6 M331.0,255.0 L409.8,270.1 M365.0,251.1 L365.0,216.7 M365.0,251.1 L443.8,266.3 M399.0,247.2 L399.0,212.8 M399.0,247.2 L477.8,262.4 M433.1,243.3 L433.1,208.9 M433.1,243.3 L511.8,258.5 M397.0,267.7 L502.0,255.7 M502.0,255.7 L502.0,221.3 M380.6,264.5 L485.6,252.5 M485.6,252.5 L485.6,218.1 M364.1,261.4 L469.1,249.4 M469.1,249.4 L469.1,215.0 M347.7,258.2 L452.7,246.2 M452.7,246.2 L452.7,211.8 M331.3,255.0 L436.3,243.0 M436.3,243.0 L436.3,208.6 M331.0,255.0 L436.0,243.0 M436.0,243.0 L514.8,258.1" stroke="#888" stroke-width="0.6" stroke-dasharray="0.8 2.2" fill="none" opacity="0.5"/>
<g stroke-width="0.4" stroke-linejoin="round">
<path d="M385.6,223.9 L436.6,218.3 L466.2,224.0Z" fill="url(#g35)" stroke="url(#g35)"/>
<path d="M385.6,223.9 L466.2,224.0 L415.2,230.1Z" fill="url(#g36)" stroke="url(#g36)"/>
<path d="M370.3,229.4 L385.6,223.9 L415.2,230.1Z" fill="url(#g37)" stroke="url(#g37)"/>
<path d="M370.3,229.4 L415.2,230.1 L399.9,234.8Z" fill="url(#g38)" stroke="url(#g38)"/>
<path d="M358.4,233.2 L370.3,229.4 L399.9,234.8Z" fill="url(#g39)" stroke="url(#g39)"/>
<path d="M358.4,233.2 L399.9,234.8 L388.0,237.3Z" fill="url(#g40)" stroke="url(#g40)"/>
<path d="M334.5,237.3 L358.4,233.2 L388.0,237.3Z" fill="url(#g41)" stroke="url(#g41)"/>
<path d="M334.5,237.3 L388.0,237.3 L364.1,243.0Z" fill="url(#g42)" stroke="url(#g42)"/>
<path d="M415.2,230.1 L466.2,224.0 L471.8,225.1Z" fill="url(#g43)" stroke="url(#g43)"/>
<path d="M415.2,230.1 L471.8,225.1 L420.8,232.4Z" fill="url(#g44)" stroke="url(#g44)"/>
<path d="M399.9,234.8 L415.2,230.1 L420.8,232.4Z" fill="url(#g45)" stroke="url(#g45)"/>
<path d="M399.9,234.8 L420.8,232.4 L405.5,235.8Z" fill="url(#g46)" stroke="url(#g46)"/>
<path d="M388.0,237.3 L399.9,234.8 L405.5,235.8Z" fill="url(#g47)" stroke="url(#g47)"/>
<path d="M388.0,237.3 L405.5,235.8 L393.6,238.2Z" fill="url(#g48)" stroke="url(#g48)"/>
<path d="M364.1,243.0 L388.0,237.3 L393.6,238.2Z" fill="url(#g49)" stroke="url(#g49)"/>
<path d="M364.1,243.0 L393.6,238.2 L369.7,244.1Z" fill="url(#g50)" stroke="url(#g50)"/>
<path d="M420.8,232.4 L471.8,225.1 L473.1,232.3Z" fill="url(#g51)" stroke="url(#g51)"/>
<path d="M420.8,232.4 L473.1,232.3 L422.1,238.3Z" fill="url(#g52)" stroke="url(#g52)"/>
<path d="M405.5,235.8 L420.8,232.4 L422.1,238.3Z" fill="url(#g53)" stroke="url(#g53)"/>
<path d="M405.5,235.8 L422.1,238.3 L406.8,239.9Z" fill="url(#g54)" stroke="url(#g54)"/>
<path d="M393.6,238.2 L405.5,235.8 L406.8,239.9Z" fill="url(#g55)" stroke="url(#g55)"/>
<path d="M393.6,238.2 L406.8,239.9 L394.9,241.6Z" fill="url(#g56)" stroke="url(#g56)"/>
<path d="M369.7,244.1 L393.6,238.2 L394.9,241.6Z" fill="url(#g57)" stroke="url(#g57)"/>
<path d="M369.7,244.1 L394.9,241.6 L371.1,244.6Z" fill="url(#g58)" stroke="url(#g58)"/>
<path d="M422.1,238.3 L473.1,232.3 L479.4,234.9Z" fill="url(#g59)" stroke="url(#g59)"/>
<path d="M422.1,238.3 L479.4,234.9 L428.3,240.7Z" fill="url(#g60)" stroke="url(#g60)"/>
<path d="M406.8,239.9 L422.1,238.3 L428.3,240.7Z" fill="url(#g61)" stroke="url(#g61)"/>
<path d="M406.8,239.9 L428.3,240.7 L413.0,242.6Z" fill="url(#g62)" stroke="url(#g62)"/>
<path d="M394.9,241.6 L406.8,239.9 L413.0,242.6Z" fill="url(#g63)" stroke="url(#g63)"/>
<path d="M394.9,241.6 L413.0,242.6 L401.1,243.8Z" fill="url(#g64)" stroke="url(#g64)"/>
<path d="M371.1,244.6 L394.9,241.6 L401.1,243.8Z" fill="url(#g65)" stroke="url(#g65)"/>
<path d="M371.1,244.6 L401.1,243.8 L377.3,246.1Z" fill="url(#g66)" stroke="url(#g66)"/>
<path d="M428.3,240.7 L479.4,234.9 L485.9,236.6Z" fill="url(#g67)" stroke="url(#g67)"/>
<path d="M428.3,240.7 L485.9,236.6 L434.9,242.2Z" fill="url(#g68)" stroke="url(#g68)"/>
<path d="M413.0,242.6 L428.3,240.7 L434.9,242.2Z" fill="url(#g69)" stroke="url(#g69)"/>
<path d="M413.0,242.6 L434.9,242.2 L419.6,244.0Z" fill="url(#g70)" stroke="url(#g70)"/>
<path d="M401.1,243.8 L413.0,242.6 L419.6,244.0Z" fill="url(#g71)" stroke="url(#g71)"/>
<path d="M401.1,243.8 L419.6,244.0 L407.7,245.1Z" fill="url(#g72)" stroke="url(#g72)"/>
<path d="M377.3,246.1 L401.1,243.8 L407.7,245.1Z" fill="url(#g73)" stroke="url(#g73)"/>
<path d="M377.3,246.1 L407.7,245.1 L383.9,247.4Z" fill="url(#g74)" stroke="url(#g74)"/>
<path d="M434.9,242.2 L485.9,236.6 L502.4,240.8Z" fill="url(#g75)" stroke="url(#g75)"/>
<path d="M434.9,242.2 L502.4,240.8 L451.4,245.8Z" fill="url(#g76)" stroke="url(#g76)"/>
<path d="M419.6,244.0 L434.9,242.2 L451.4,245.8Z" fill="url(#g77)" stroke="url(#g77)"/>
<path d="M419.6,244.0 L451.4,245.8 L436.0,247.2Z" fill="url(#g78)" stroke="url(#g78)"/>
<path d="M407.7,245.1 L419.6,244.0 L436.0,247.2Z" fill="url(#g79)" stroke="url(#g79)"/>
<path d="M407.7,245.1 L436.0,247.2 L424.1,248.4Z" fill="url(#g80)" stroke="url(#g80)"/>
<path d="M383.9,247.4 L407.7,245.1 L424.1,248.4Z" fill="url(#g81)" stroke="url(#g81)"/>
<path d="M383.9,247.4 L424.1,248.4 L400.3,250.7Z" fill="url(#g82)" stroke="url(#g82)"/>
</g>
<path d="M331.0,255.0 L331.0,220.6 M331.0,255.0 L409.8,270.1 M409.8,270.1 L514.8,258.1 M331.0,255.0 L333.5,255.5 M331.0,237.8 L333.5,238.3 M331.0,220.6 L333.5,221.1" stroke="#555" stroke-width="0.7" fill="none" opacity="0.7"/>
<text transform="translate(327.5,257.2) scale(1.80,1.00)" font-size="6" text-anchor="end" stroke="#222" stroke-width="0.2" stroke-opacity="0.85" fill="#222" fill-opacity="0.85">-0.2</text>
<text transform="translate(327.5,240.0) scale(1.80,1.00)" font-size="6" text-anchor="end" stroke="#222" stroke-width="0.2" stroke-opacity="0.85" fill="#222" fill-opacity="0.85">0</text>
<text transform="translate(327.5,222.8) scale(1.80,1.00)" font-size="6" text-anchor="end" stroke="#222" stroke-width="0.2" stroke-opacity="0.85" fill="#222" fill-opacity="0.85">0.2</text>
<text transform="translate(388.0,273.2) scale(1.80,1.00)" font-size="6" text-anchor="middle" stroke="#222" stroke-width="0.2" stroke-opacity="0.85" fill="#222" fill-opacity="0.85">5</text>
<text transform="translate(371.6,270.0) scale(1.80,1.00)" font-size="6" text-anchor="middle" stroke="#222" stroke-width="0.2" stroke-opacity="0.85" fill="#222" fill-opacity="0.85">10</text>
<text transform="translate(355.1,266.9) scale(1.80,1.00)" font-size="6" text-anchor="middle" stroke="#222" stroke-width="0.2" stroke-opacity="0.85" fill="#222" fill-opacity="0.85">15</text>
<text transform="translate(338.7,263.7) scale(1.80,1.00)" font-size="6" text-anchor="middle" stroke="#222" stroke-width="0.2" stroke-opacity="0.85" fill="#222" fill-opacity="0.85">20</text>
<text transform="translate(322.3,260.5) scale(1.80,1.00)" font-size="6" text-anchor="middle" stroke="#222" stroke-width="0.2" stroke-opacity="0.85" fill="#222" fill-opacity="0.85">25</text>
<text transform="translate(419.3,276.3) scale(1.80,1.00)" font-size="6" text-anchor="middle" stroke="#222" stroke-width="0.2" stroke-opacity="0.85" fill="#222" fill-opacity="0.85">1</text>
<text transform="translate(453.3,272.5) scale(1.80,1.00)" font-size="6" text-anchor="middle" stroke="#222" stroke-width="0.2" stroke-opacity="0.85" fill="#222" fill-opacity="0.85">2</text>
<text transform="translate(487.3,268.6) scale(1.80,1.00)" font-size="6" text-anchor="middle" stroke="#222" stroke-width="0.2" stroke-opacity="0.85" fill="#222" fill-opacity="0.85">3</text>
<text transform="translate(521.3,264.7) scale(1.80,1.00)" font-size="6" text-anchor="middle" stroke="#222" stroke-width="0.2" stroke-opacity="0.85" fill="#222" fill-opacity="0.85">4</text>
<text transform="translate(344.6,274.8) scale(1.80,1.00) rotate(19.1)" font-size="6" text-anchor="middle" font-style="italic" stroke="#222" stroke-width="0.2" stroke-opacity="0.85" fill="#222" fill-opacity="0.85">V<tspan font-size="4.5" dy="1.5">W</tspan><tspan dy="-1.5"> (m/s)</tspan></text>
<text transform="translate(483.3,276.1) scale(1.80,1.00) rotate(-11.6)" font-size="6" text-anchor="middle" stroke="#222" stroke-width="0.2" stroke-opacity="0.85" fill="#222" fill-opacity="0.85">V<tspan font-size="4.5" dy="1.5"> MR</tspan><tspan dy="-1.5"> (m/s)</tspan></text>
<text transform="translate(298.2,238.8) scale(2.30,0.62) rotate(-90.0)" font-size="6" text-anchor="middle" stroke="#222" stroke-width="0.2" stroke-opacity="0.85" fill="#222" fill-opacity="0.85">Q<tspan font-size="4.5" dy="1.5">grid</tspan><tspan dy="-1.5"> (p.u.)</tspan></text>
<text transform="translate(402.0,290.4) scale(2.00,1.00)" font-size="7.5" text-anchor="middle" font-weight="bold" fill="#222" fill-opacity="0.9">(j)</text>
</g>
<g>
<path d="M589.6,255.7 L694.6,243.7 M694.6,243.7 L773.4,258.8 M589.6,238.5 L694.6,226.5 M694.6,226.5 L773.4,241.6 M589.6,221.3 L694.6,209.3 M694.6,209.3 L773.4,224.4 M589.6,221.3 L694.6,209.3 M694.6,209.3 L773.4,224.4 M694.6,243.7 L694.6,209.3 M773.4,258.8 L773.4,224.4 M589.6,255.7 L589.6,221.3 M589.6,255.7 L668.4,270.8 M623.6,251.8 L623.6,217.4 M623.6,251.8 L702.4,267.0 M657.6,247.9 L657.6,213.5 M657.6,247.9 L736.4,263.1 M691.7,244.0 L691.7,209.6 M691.7,244.0 L770.4,259.2 M655.6,268.4 L760.6,256.4 M760.6,256.4 L760.6,222.0 M639.2,265.2 L744.2,253.2 M744.2,253.2 L744.2,218.8 M622.7,262.1 L727.7,250.1 M727.7,250.1 L727.7,215.7 M606.3,258.9 L711.3,246.9 M711.3,246.9 L711.3,212.5 M589.9,255.7 L694.9,243.7 M694.9,243.7 L694.9,209.3 M589.6,255.7 L694.6,243.7 M694.6,243.7 L773.4,258.8" stroke="#888" stroke-width="0.6" stroke-dasharray="0.8 2.2" fill="none" opacity="0.5"/>
<g stroke-width="0.4" stroke-linejoin="round">
<path d="M593.1,239.2 L695.2,227.5 L761.0,240.2 L658.9,251.8Z" fill="#80fa70"/>
</g>
<path d="M589.6,255.7 L589.6,221.3 M589.6,255.7 L668.4,270.8 M668.4,270.8 L773.4,258.8 M589.6,255.7 L592.1,256.2 M589.6,238.5 L592.1,239.0 M589.6,221.3 L592.1,221.8" stroke="#555" stroke-width="0.7" fill="none" opacity="0.7"/>
<text transform="translate(586.1,257.9) scale(1.80,1.00)" font-size="6" text-anchor="end" stroke="#222" stroke-width="0.2" stroke-opacity="0.85" fill="#222" fill-opacity="0.85">0.8</text>
<text transform="translate(586.1,240.7) scale(1.80,1.00)" font-size="6" text-anchor="end" stroke="#222" stroke-width="0.2" stroke-opacity="0.85" fill="#222" fill-opacity="0.85">1</text>
<text transform="translate(586.1,223.5) scale(1.80,1.00)" font-size="6" text-anchor="end" stroke="#222" stroke-width="0.2" stroke-opacity="0.85" fill="#222" fill-opacity="0.85">1.2</text>
<text transform="translate(646.6,273.9) scale(1.80,1.00)" font-size="6" text-anchor="middle" stroke="#222" stroke-width="0.2" stroke-opacity="0.85" fill="#222" fill-opacity="0.85">5</text>
<text transform="translate(630.2,270.7) scale(1.80,1.00)" font-size="6" text-anchor="middle" stroke="#222" stroke-width="0.2" stroke-opacity="0.85" fill="#222" fill-opacity="0.85">10</text>
<text transform="translate(613.7,267.6) scale(1.80,1.00)" font-size="6" text-anchor="middle" stroke="#222" stroke-width="0.2" stroke-opacity="0.85" fill="#222" fill-opacity="0.85">15</text>
<text transform="translate(597.3,264.4) scale(1.80,1.00)" font-size="6" text-anchor="middle" stroke="#222" stroke-width="0.2" stroke-opacity="0.85" fill="#222" fill-opacity="0.85">20</text>
<text transform="translate(580.9,261.2) scale(1.80,1.00)" font-size="6" text-anchor="middle" stroke="#222" stroke-width="0.2" stroke-opacity="0.85" fill="#222" fill-opacity="0.85">25</text>
<text transform="translate(677.9,277.0) scale(1.80,1.00)" font-size="6" text-anchor="middle" stroke="#222" stroke-width="0.2" stroke-opacity="0.85" fill="#222" fill-opacity="0.85">1</text>
<text transform="translate(711.9,273.2) scale(1.80,1.00)" font-size="6" text-anchor="middle" stroke="#222" stroke-width="0.2" stroke-opacity="0.85" fill="#222" fill-opacity="0.85">2</text>
<text transform="translate(745.9,269.3) scale(1.80,1.00)" font-size="6" text-anchor="middle" stroke="#222" stroke-width="0.2" stroke-opacity="0.85" fill="#222" fill-opacity="0.85">3</text>
<text transform="translate(779.9,265.4) scale(1.80,1.00)" font-size="6" text-anchor="middle" stroke="#222" stroke-width="0.2" stroke-opacity="0.85" fill="#222" fill-opacity="0.85">4</text>
<text transform="translate(603.2,275.5) scale(1.80,1.00) rotate(19.1)" font-size="6" text-anchor="middle" font-style="italic" stroke="#222" stroke-width="0.2" stroke-opacity="0.85" fill="#222" fill-opacity="0.85">V<tspan font-size="4.5" dy="1.5">W</tspan><tspan dy="-1.5"> (m/s)</tspan></text>
<text transform="translate(741.9,276.8) scale(1.80,1.00) rotate(-11.6)" font-size="6" text-anchor="middle" stroke="#222" stroke-width="0.2" stroke-opacity="0.85" fill="#222" fill-opacity="0.85">V<tspan font-size="4.5" dy="1.5"> MR</tspan><tspan dy="-1.5"> (m/s)</tspan></text>
<text transform="translate(565.3,239.5) scale(2.30,0.72) rotate(-90.0)" font-size="6" text-anchor="middle" stroke="#222" stroke-width="0.2" stroke-opacity="0.85" fill="#222" fill-opacity="0.85">v<tspan font-size="4.5" dy="1.5">bus</tspan><tspan dy="-1.5"> (p.u.)</tspan></text>
<text transform="translate(657.7,290.4) scale(2.00,1.00)" font-size="7.5" text-anchor="middle" font-weight="bold" fill="#222" fill-opacity="0.9">(k)</text>
</g>
<g>
<path d="M856.6,255.0 L961.6,243.0 M961.6,243.0 L1040.4,258.1 M856.6,237.8 L961.6,225.8 M961.6,225.8 L1040.4,240.9 M856.6,220.6 L961.6,208.6 M961.6,208.6 L1040.4,223.7 M856.6,220.6 L961.6,208.6 M961.6,208.6 L1040.4,223.7 M961.6,243.0 L961.6,208.6 M1040.4,258.1 L1040.4,223.7 M856.6,255.0 L856.6,220.6 M856.6,255.0 L935.4,270.1 M890.6,251.1 L890.6,216.7 M890.6,251.1 L969.4,266.3 M924.6,247.2 L924.6,212.8 M924.6,247.2 L1003.4,262.4 M958.7,243.3 L958.7,208.9 M958.7,243.3 L1037.4,258.5 M922.6,267.7 L1027.6,255.7 M1027.6,255.7 L1027.6,221.3 M906.2,264.5 L1011.2,252.5 M1011.2,252.5 L1011.2,218.1 M889.7,261.4 L994.7,249.4 M994.7,249.4 L994.7,215.0 M873.3,258.2 L978.3,246.2 M978.3,246.2 L978.3,211.8 M856.9,255.0 L961.9,243.0 M961.9,243.0 L961.9,208.6 M856.6,255.0 L961.6,243.0 M961.6,243.0 L1040.4,258.1" stroke="#888" stroke-width="0.6" stroke-dasharray="0.8 2.2" fill="none" opacity="0.5"/>
<g stroke-width="0.4" stroke-linejoin="round">
<path d="M935.0,222.7 L962.2,219.9 L991.8,225.8Z" fill="url(#g83)" stroke="url(#g83)"/>
<path d="M935.0,222.7 L991.8,225.8 L964.6,228.5Z" fill="url(#g84)" stroke="url(#g84)"/>
<path d="M911.2,225.4 L935.0,222.7 L964.6,228.5Z" fill="url(#g85)" stroke="url(#g85)"/>
<path d="M911.2,225.4 L964.6,228.5 L940.8,232.0Z" fill="url(#g86)" stroke="url(#g86)"/>
<path d="M895.9,230.8 L911.2,225.4 L940.8,232.0Z" fill="url(#g87)" stroke="url(#g87)"/>
<path d="M895.9,230.8 L940.8,232.0 L925.5,236.6Z" fill="url(#g88)" stroke="url(#g88)"/>
<path d="M884.0,233.8 L895.9,230.8 L925.5,236.6Z" fill="url(#g89)" stroke="url(#g89)"/>
<path d="M884.0,233.8 L925.5,236.6 L913.6,239.2Z" fill="url(#g90)" stroke="url(#g90)"/>
<path d="M860.1,237.3 L884.0,233.8 L913.6,239.2Z" fill="url(#g91)" stroke="url(#g91)"/>
<path d="M860.1,237.3 L913.6,239.2 L889.7,243.1Z" fill="url(#g92)" stroke="url(#g92)"/>
<path d="M964.6,228.5 L991.8,225.8 L996.7,226.9Z" fill="url(#g93)" stroke="url(#g93)"/>
<path d="M964.6,228.5 L996.7,226.9 L969.5,229.7Z" fill="url(#g94)" stroke="url(#g94)"/>
<path d="M940.8,232.0 L964.6,228.5 L969.5,229.7Z" fill="url(#g95)" stroke="url(#g95)"/>
<path d="M940.8,232.0 L969.5,229.7 L945.7,234.1Z" fill="url(#g96)" stroke="url(#g96)"/>
<path d="M925.5,236.6 L940.8,232.0 L945.7,234.1Z" fill="url(#g97)" stroke="url(#g97)"/>
<path d="M925.5,236.6 L945.7,234.1 L930.4,237.6Z" fill="url(#g98)" stroke="url(#g98)"/>
<path d="M913.6,239.2 L925.5,236.6 L930.4,237.6Z" fill="url(#g99)" stroke="url(#g99)"/>
<path d="M913.6,239.2 L930.4,237.6 L918.5,239.8Z" fill="url(#g100)" stroke="url(#g100)"/>
<path d="M889.7,243.1 L913.6,239.2 L918.5,239.8Z" fill="url(#g101)" stroke="url(#g101)"/>
<path d="M889.7,243.1 L918.5,239.8 L894.7,244.3Z" fill="url(#g102)" stroke="url(#g102)"/>
<path d="M969.5,229.7 L996.7,226.9 L998.4,230.0Z" fill="url(#g103)" stroke="url(#g103)"/>
<path d="M969.5,229.7 L998.4,230.0 L971.2,233.1Z" fill="url(#g104)" stroke="url(#g104)"/>
<path d="M945.7,234.1 L969.5,229.7 L971.2,233.1Z" fill="url(#g105)" stroke="url(#g105)"/>
<path d="M945.7,234.1 L971.2,233.1 L947.4,236.5Z" fill="url(#g106)" stroke="url(#g106)"/>
<path d="M930.4,237.6 L945.7,234.1 L947.4,236.5Z" fill="url(#g107)" stroke="url(#g107)"/>
<path d="M930.4,237.6 L947.4,236.5 L932.0,239.6Z" fill="url(#g108)" stroke="url(#g108)"/>
<path d="M918.5,239.8 L930.4,237.6 L932.0,239.6Z" fill="url(#g109)" stroke="url(#g109)"/>
<path d="M918.5,239.8 L932.0,239.6 L920.1,241.7Z" fill="url(#g110)" stroke="url(#g110)"/>
<path d="M894.7,244.3 L918.5,239.8 L920.1,241.7Z" fill="url(#g111)" stroke="url(#g111)"/>
<path d="M894.7,244.3 L920.1,241.7 L896.3,245.4Z" fill="url(#g112)" stroke="url(#g112)"/>
<path d="M971.2,233.1 L998.4,230.0 L1005.0,233.0Z" fill="url(#g113)" stroke="url(#g113)"/>
<path d="M971.2,233.1 L1005.0,233.0 L977.7,236.6Z" fill="url(#g114)" stroke="url(#g114)"/>
<path d="M947.4,236.5 L971.2,233.1 L977.7,236.6Z" fill="url(#g115)" stroke="url(#g115)"/>
<path d="M947.4,236.5 L977.7,236.6 L953.9,241.2Z" fill="url(#g116)" stroke="url(#g116)"/>
<path d="M932.0,239.6 L947.4,236.5 L953.9,241.2Z" fill="url(#g117)" stroke="url(#g117)"/>
<path d="M932.0,239.6 L953.9,241.2 L938.6,244.3Z" fill="url(#g118)" stroke="url(#g118)"/>
<path d="M920.1,241.7 L932.0,239.6 L938.6,244.3Z" fill="url(#g119)" stroke="url(#g119)"/>
<path d="M920.1,241.7 L938.6,244.3 L926.7,245.9Z" fill="url(#g120)" stroke="url(#g120)"/>
<path d="M896.3,245.4 L920.1,241.7 L926.7,245.9Z" fill="url(#g121)" stroke="url(#g121)"/>
<path d="M896.3,245.4 L926.7,245.9 L902.9,248.8Z" fill="url(#g122)" stroke="url(#g122)"/>
<path d="M977.7,236.6 L1005.0,233.0 L1011.5,235.3Z" fill="url(#g123)" stroke="url(#g123)"/>
<path d="M977.7,236.6 L1011.5,235.3 L984.3,238.7Z" fill="url(#g124)" stroke="url(#g124)"/>
<path d="M953.9,241.2 L977.7,236.6 L984.3,238.7Z" fill="url(#g125)" stroke="url(#g125)"/>
<path d="M953.9,241.2 L984.3,238.7 L960.5,243.2Z" fill="url(#g126)" stroke="url(#g126)"/>
<path d="M938.6,244.3 L953.9,241.2 L960.5,243.2Z" fill="url(#g127)" stroke="url(#g127)"/>
<path d="M938.6,244.3 L960.5,243.2 L945.2,246.0Z" fill="url(#g128)" stroke="url(#g128)"/>
<path d="M926.7,245.9 L938.6,244.3 L945.2,246.0Z" fill="url(#g129)" stroke="url(#g129)"/>
<path d="M926.7,245.9 L945.2,246.0 L933.3,247.5Z" fill="url(#g130)" stroke="url(#g130)"/>
<path d="M902.9,248.8 L926.7,245.9 L933.3,247.5Z" fill="url(#g131)" stroke="url(#g131)"/>
<path d="M902.9,248.8 L933.3,247.5 L909.5,250.4Z" fill="url(#g132)" stroke="url(#g132)"/>
<path d="M984.3,238.7 L1011.5,235.3 L1028.0,239.1Z" fill="url(#g133)" stroke="url(#g133)"/>
<path d="M984.3,238.7 L1028.0,239.1 L1000.8,242.4Z" fill="url(#g134)" stroke="url(#g134)"/>
<path d="M960.5,243.2 L984.3,238.7 L1000.8,242.4Z" fill="url(#g135)" stroke="url(#g135)"/>
<path d="M960.5,243.2 L1000.8,242.4 L977.0,246.8Z" fill="url(#g136)" stroke="url(#g136)"/>
<path d="M945.2,246.0 L960.5,243.2 L977.0,246.8Z" fill="url(#g137)" stroke="url(#g137)"/>
<path d="M945.2,246.0 L977.0,246.8 L961.6,249.6Z" fill="url(#g138)" stroke="url(#g138)"/>
<path d="M933.3,247.5 L945.2,246.0 L961.6,249.6Z" fill="url(#g139)" stroke="url(#g139)"/>
<path d="M933.3,247.5 L961.6,249.6 L949.7,251.2Z" fill="url(#g140)" stroke="url(#g140)"/>
<path d="M909.5,250.4 L933.3,247.5 L949.7,251.2Z" fill="url(#g141)" stroke="url(#g141)"/>
<path d="M909.5,250.4 L949.7,251.2 L925.9,254.1Z" fill="url(#g142)" stroke="url(#g142)"/>
</g>
<path d="M856.6,255.0 L856.6,220.6 M856.6,255.0 L935.4,270.1 M935.4,270.1 L1040.4,258.1 M856.6,255.0 L859.1,255.5 M856.6,237.8 L859.1,238.3 M856.6,220.6 L859.1,221.1" stroke="#555" stroke-width="0.7" fill="none" opacity="0.7"/>
<text transform="translate(853.1,257.2) scale(1.80,1.00)" font-size="6" text-anchor="end" stroke="#222" stroke-width="0.2" stroke-opacity="0.85" fill="#222" fill-opacity="0.85">-0.5</text>
<text transform="translate(853.1,240.0) scale(1.80,1.00)" font-size="6" text-anchor="end" stroke="#222" stroke-width="0.2" stroke-opacity="0.85" fill="#222" fill-opacity="0.85">0</text>
<text transform="translate(853.1,222.8) scale(1.80,1.00)" font-size="6" text-anchor="end" stroke="#222" stroke-width="0.2" stroke-opacity="0.85" fill="#222" fill-opacity="0.85">0.5</text>
<text transform="translate(913.6,273.2) scale(1.80,1.00)" font-size="6" text-anchor="middle" stroke="#222" stroke-width="0.2" stroke-opacity="0.85" fill="#222" fill-opacity="0.85">5</text>
<text transform="translate(897.2,270.0) scale(1.80,1.00)" font-size="6" text-anchor="middle" stroke="#222" stroke-width="0.2" stroke-opacity="0.85" fill="#222" fill-opacity="0.85">10</text>
<text transform="translate(880.7,266.9) scale(1.80,1.00)" font-size="6" text-anchor="middle" stroke="#222" stroke-width="0.2" stroke-opacity="0.85" fill="#222" fill-opacity="0.85">15</text>
<text transform="translate(864.3,263.7) scale(1.80,1.00)" font-size="6" text-anchor="middle" stroke="#222" stroke-width="0.2" stroke-opacity="0.85" fill="#222" fill-opacity="0.85">20</text>
<text transform="translate(847.9,260.5) scale(1.80,1.00)" font-size="6" text-anchor="middle" stroke="#222" stroke-width="0.2" stroke-opacity="0.85" fill="#222" fill-opacity="0.85">25</text>
<text transform="translate(944.9,276.3) scale(1.80,1.00)" font-size="6" text-anchor="middle" stroke="#222" stroke-width="0.2" stroke-opacity="0.85" fill="#222" fill-opacity="0.85">1</text>
<text transform="translate(978.9,272.5) scale(1.80,1.00)" font-size="6" text-anchor="middle" stroke="#222" stroke-width="0.2" stroke-opacity="0.85" fill="#222" fill-opacity="0.85">2</text>
<text transform="translate(1012.9,268.6) scale(1.80,1.00)" font-size="6" text-anchor="middle" stroke="#222" stroke-width="0.2" stroke-opacity="0.85" fill="#222" fill-opacity="0.85">3</text>
<text transform="translate(1046.9,264.7) scale(1.80,1.00)" font-size="6" text-anchor="middle" stroke="#222" stroke-width="0.2" stroke-opacity="0.85" fill="#222" fill-opacity="0.85">4</text>
<text transform="translate(870.2,274.8) scale(1.80,1.00) rotate(19.1)" font-size="6" text-anchor="middle" font-style="italic" stroke="#222" stroke-width="0.2" stroke-opacity="0.85" fill="#222" fill-opacity="0.85">V<tspan font-size="4.5" dy="1.5">W</tspan><tspan dy="-1.5"> (m/s)</tspan></text>
<text transform="translate(1008.9,276.1) scale(1.80,1.00) rotate(-11.6)" font-size="6" text-anchor="middle" stroke="#222" stroke-width="0.2" stroke-opacity="0.85" fill="#222" fill-opacity="0.85">V<tspan font-size="4.5" dy="1.5"> MR</tspan><tspan dy="-1.5"> (m/s)</tspan></text>
<text transform="translate(825.8,238.8) scale(2.30,0.72) rotate(-90.0)" font-size="6" text-anchor="middle" stroke="#222" stroke-width="0.2" stroke-opacity="0.85" fill="#222" fill-opacity="0.85">Q<tspan font-size="4.5" dy="1.5">sta</tspan><tspan dy="-1.5"> (p.u.)</tspan></text>
<text transform="translate(949.8,290.4) scale(2.00,1.00)" font-size="7.5" text-anchor="middle" font-weight="bold" fill="#222" fill-opacity="0.9">(l)</text>
</g>
</svg>
<div class="cap"><div class="l1">Fig.9.Steady-state operating conditions of the studied system under various values of wind speed and and marine-</div>
<div class="l2">current speed(a) P<sub>w</sub> , (b) Q<sub>w</sub> , (c) P<sub>mr</sub>, (d) Q<sub>mr</sub> , (e) β<sub>w</sub> , (f) β<sub>mr</sub> , (g) P<sub>L</sub> , (h) Q<sub>L</sub> , (i) P<sub>grid</sub> , (j) Q<sub>grid</sub> , (k) v<sub>bus</sub> , (l) Q<sub>sta</sub> .</div></div>
</body></html>
